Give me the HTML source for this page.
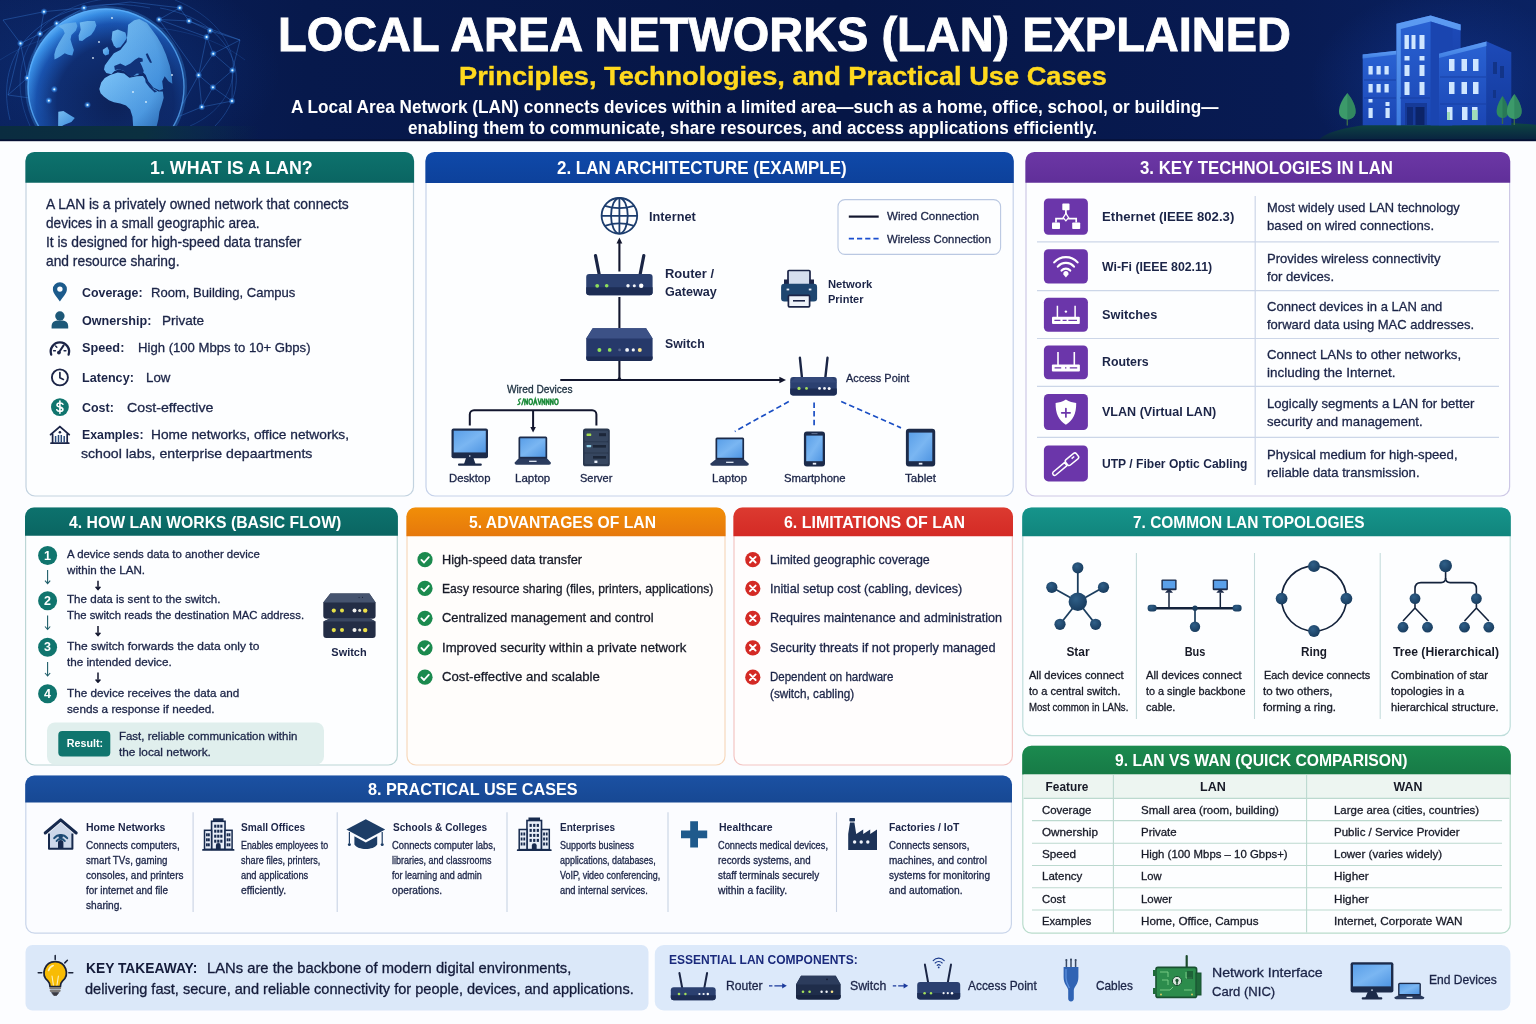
<!DOCTYPE html>
<html lang="en"><head><meta charset="utf-8">
<title>Local Area Networks (LAN) Explained</title>
<style>
*{margin:0;padding:0;box-sizing:border-box}
html,body{width:1536px;height:1024px;overflow:hidden;background:#fcfdff}
body{position:relative;font-family:"Liberation Sans",sans-serif;color:#1b2447}
#art{position:absolute;left:0;top:0;width:1536px;height:1024px;display:block}
#tx{position:absolute;left:0;top:0;width:1536px;height:1024px;will-change:transform}
.t{position:absolute;white-space:nowrap;transform-origin:0 50%}
.c{transform-origin:50% 50%}
.b{font-weight:700}
.m{-webkit-text-stroke:0.3px currentColor}
.h{-webkit-text-stroke:0.4px currentColor}
.H{-webkit-text-stroke:0.9px currentColor}
</style></head>
<body>
<svg id="art" viewBox="0 0 1536 1024" width="1536" height="1024">
<defs>
<linearGradient id="hBg" x1="0" y1="0" x2="1" y2="0"><stop offset="0" stop-color="#0a215c"/><stop offset="0.2" stop-color="#07194c"/><stop offset="0.55" stop-color="#061646"/><stop offset="0.84" stop-color="#081b53"/><stop offset="1" stop-color="#0a2262"/></linearGradient>
<radialGradient id="hGlowL" cx="0.5" cy="0.5" r="0.5"><stop offset="0" stop-color="#1a56c0" stop-opacity="0.25"/><stop offset="1" stop-color="#1a56c0" stop-opacity="0"/></radialGradient>
<radialGradient id="hGlowR" cx="0.5" cy="0.5" r="0.5"><stop offset="0" stop-color="#1c4fc8" stop-opacity="0.34"/><stop offset="1" stop-color="#1c4fc8" stop-opacity="0"/></radialGradient>
<radialGradient id="gOcean" cx="0.56" cy="0.6" r="0.6"><stop offset="0" stop-color="#0c2259"/><stop offset="0.62" stop-color="#0f2e72"/><stop offset="0.84" stop-color="#1a55b2"/><stop offset="0.96" stop-color="#3a92ea"/><stop offset="1" stop-color="#52a8f6"/></radialGradient>
<linearGradient id="gLand" x1="0" y1="0" x2="1" y2="1"><stop offset="0" stop-color="#7cc4f8"/><stop offset="1" stop-color="#3d8fe0"/></linearGradient>
<radialGradient id="gShade" cx="0.42" cy="0.38" r="0.7"><stop offset="0" stop-color="#0a1f58" stop-opacity="0"/><stop offset="0.6" stop-color="#0a1f58" stop-opacity="0.05"/><stop offset="0.85" stop-color="#0a1f58" stop-opacity="0.35"/><stop offset="1" stop-color="#0a1f58" stop-opacity="0.55"/></radialGradient>
<radialGradient id="nodeG" cx="0.5" cy="0.5" r="0.5"><stop offset="0" stop-color="#bfe6ff"/><stop offset="0.35" stop-color="#4aa8ff" stop-opacity="0.8"/><stop offset="1" stop-color="#2a7cf0" stop-opacity="0"/></radialGradient>
<clipPath id="hClipAll"><rect x="0" y="0" width="1536" height="141"/></clipPath>
<clipPath id="hClip"><rect x="0" y="0" width="1536" height="126.2"/></clipPath>
<clipPath id="gClip"><circle cx="106" cy="87" r="78.5"/></clipPath>
<linearGradient id="bFront" x1="0" y1="0" x2="0" y2="1"><stop offset="0" stop-color="#2a63d4"/><stop offset="1" stop-color="#1b46b4"/></linearGradient>
<linearGradient id="bSide" x1="0" y1="0" x2="0" y2="1"><stop offset="0" stop-color="#1d4ab8"/><stop offset="1" stop-color="#143a9c"/></linearGradient>
<linearGradient id="bTop" x1="0" y1="0" x2="0" y2="1"><stop offset="0" stop-color="#5e9cf2"/><stop offset="1" stop-color="#3f7ee2"/></linearGradient>
<linearGradient id="gGround" x1="0" y1="0" x2="0" y2="1"><stop offset="0" stop-color="#0f4a44"/><stop offset="1" stop-color="#08203f"/></linearGradient>
<linearGradient id="gGroundL" x1="0" y1="0" x2="1" y2="0"><stop offset="0" stop-color="#0a2c40"/><stop offset="0.55" stop-color="#0b3040"/><stop offset="1" stop-color="#0b3040" stop-opacity="0"/></linearGradient>
</defs>
<g id="header">
<rect x="0" y="0" width="1536" height="141" fill="url(#hBg)"/>
<g clip-path="url(#hClipAll)"><ellipse cx="110" cy="72" rx="170" ry="105" fill="url(#hGlowL)"/>
<ellipse cx="1445" cy="85" rx="135" ry="95" fill="url(#hGlowR)"/></g>
<g clip-path="url(#hClip)">
<g stroke="#3f8cf0" stroke-width="0.6" stroke-opacity="0.55" fill="none">
<path d="M40 33.8 L20.5 43.4"/>
<path d="M40 33.8 L56.6 23.4"/>
<path d="M40 33.8 L44 11.7"/>
<path d="M44 11.7 L84 7.8"/>
<path d="M84 7.8 L56.6 23.4"/>
<path d="M20.5 43.4 L27.3 78"/>
<path d="M27.3 78 L54.3 89.3"/>
<path d="M54.3 89.3 L48.8 100.6"/>
<path d="M48.8 100.6 L87.5 104.9"/>
<path d="M27.3 78 L48.8 100.6"/>
<path d="M20.5 43.4 L8 95"/>
<path d="M8 95 L48.8 100.6"/>
<path d="M27.3 78 L8 95"/>
<path d="M40 33.8 L27.3 78"/>
<path d="M56.6 23.4 L54.3 89.3"/>
<path d="M159 19.5 L189 21"/>
<path d="M189 21 L210 30.7"/>
<path d="M210 30.7 L206.6 37"/>
<path d="M206.6 37 L213.3 53.7"/>
<path d="M213.3 53.7 L232.4 70.3"/>
<path d="M232.4 70.3 L212.9 87.3"/>
<path d="M212.9 87.3 L198.6 75.2"/>
<path d="M198.6 75.2 L213.3 53.7"/>
<path d="M198.6 75.2 L206.6 37"/>
<path d="M212.9 87.3 L201.8 107"/>
<path d="M201.8 107 L232 101"/>
<path d="M232 101 L232.4 70.3"/>
<path d="M179.7 7.8 L189 21"/>
<path d="M179.7 7.8 L159 19.5"/>
<path d="M159 19.5 L206.6 37"/>
<path d="M189 21 L240 40"/>
<path d="M240 40 L232.4 70.3"/>
<path d="M240 40 L213.3 53.7"/>
<path d="M198.6 75.2 L201.8 107"/>
<path d="M201.8 107 L175 118"/>
<path d="M175 118 L198.6 75.2"/>
<path d="M159 19.5 L198.6 75.2"/>
<path d="M3 20 L20.5 43.4"/>
<path d="M3 20 L44 11.7"/>
<path d="M130 2 L179.7 7.8"/>
<path d="M130 2 L84 7.8"/>
<path d="M210 30.7 L240 40"/>
<path d="M212.9 87.3 L232 101"/>
<path d="M87.5 104.9 L175 118"/>
<path d="M54.3 89.3 L87.5 104.9"/>
<path d="M10 120 C-10 40 60 -10 150 8" stroke-opacity="0.5"/>
<path d="M30 126 C0 60 40 0 120 -2" stroke-opacity="0.4"/>
<path d="M160 8 C230 20 260 80 215 126" stroke-opacity="0.5"/>
<path d="M175 0 C250 30 250 100 190 126" stroke-opacity="0.4"/>
<path d="M0 60 C60 20 180 10 245 60" stroke-opacity="0.3"/>
</g>
<circle cx="106" cy="87" r="81" fill="#3f9cf0" opacity="0.28"/>
<circle cx="106" cy="87" r="78.5" fill="url(#gOcean)"/>
<g clip-path="url(#gClip)" fill="url(#gLand)">
<path d="M79.7 22.6 L87.3 20.9 L94.9 20.9 L96.4 25.4 L94.3 30.5 L91.1 34.9 L86.0 38.1 L82.2 40.9 L79.0 40.4 L78.6 35.5 L80.7 29.8 Z"/>
<path d="M58.1 26.0 L65.7 23.5 L75.9 22.3 L77.4 26.0 L75.9 30.5 L71.4 34.9 L70.5 39.4 L72.0 44.4 L73.9 50.1 L72.3 55.6 L68.2 54.8 L64.7 53.3 L60.9 55.9 L57.6 57.9 L54.5 59.4 L54.3 54.6 L55.8 48.9 L58.7 43.2 L61.9 38.1 L64.7 33.3 L63.2 29.4 Z"/>
<path d="M112.4 31.5 L117.7 29.4 L125.4 32.4 L126.9 38.1 L124.1 42.5 L120.3 47.2 L116.2 48.0 L113.7 45.2 L111.6 39.6 Z"/>
<path d="M102.8 49.8 L107.3 46.7 L109.1 50.5 L108.9 54.3 L105.3 55.6 L103.1 53.3 Z"/>
<path d="M108.9 59.7 L113.9 53.3 L120.3 50.1 L126.6 41.9 L127.6 31.7 L128.1 24.8 L134.2 20.3 L139.3 19.0 L146.9 23.1 L152.0 29.8 L157.1 36.8 L162.2 45.7 L166.0 54.6 L169.8 66.0 L171.8 76.2 L172.3 83.8 L168.5 81.2 L164.7 76.2 L162.2 81.2 L163.2 88.9 L159.6 90.4 L153.3 87.6 L148.2 81.2 L145.7 74.9 L141.9 71.1 L138.1 74.9 L131.7 76.2 L127.9 73.6 L124.1 71.1 L119.0 69.2 L114.6 71.1 L111.4 74.3 L106.3 73.0 L104.0 69.6 L104.8 65.4 Z"/>
<path d="M99.3 88.9 L101.2 82.5 L104.8 78.1 L110.1 74.9 L117.7 72.6 L124.1 73.6 L129.4 77.7 L136.8 76.2 L142.9 75.9 L146.9 81.2 L152.0 87.6 L158.4 91.4 L162.8 91.6 L163.7 97.7 L161.5 105.4 L159.4 111.7 L158.4 119.3 L156.5 126.9 L133.2 126.9 L132.5 116.8 L130.2 109.4 L126.0 105.4 L120.3 103.5 L113.9 102.3 L108.9 100.3 L103.8 96.5 L100.6 93.3 Z"/>
<path d="M58.3 111.7 L63.4 110.9 L69.8 114.9 L74.8 118.1 L71.4 122.1 L63.8 125.0 L60.4 126.9 L58.1 126.9 Z"/>
</g>
<g clip-path="url(#gClip)" fill="#11337a">
<path d="M114.2 66.0 L120.3 63.5 L125.4 66.0 L130.4 63.5 L134.9 59.7 L139.3 60.7 L141.9 66.0 L143.8 71.1 L141.9 74.3 L136.8 73.4 L133.0 76.2 L127.9 75.5 L124.1 71.1 L119.0 69.2 L114.9 70.1 Z"/>
<path d="M145.0 78.7 L147.6 81.2 L153.3 88.9 L157.1 91.4 L154.6 92.4 L149.5 87.6 L145.7 82.5 Z"/>
<path d="M134.9 59.7 L138.7 57.4 L142.5 58.6 L142.9 61.6 L139.3 62.2 L136.1 62.5 Z"/>
<path d="M145.7 53.9 L147.6 53.3 L150.7 59.7 L152.0 62.8 L150.1 62.8 L147.2 57.8 Z"/>
</g>
<circle cx="106" cy="87" r="78.5" fill="url(#gShade)"/>
<circle cx="106" cy="87" r="78" fill="none" stroke="#5fb4ff" stroke-width="1.4" stroke-opacity="0.7"/>
<circle cx="40" cy="33.8" r="3.6" fill="url(#nodeG)"/>
<circle cx="40" cy="33.8" r="0.9" fill="#e8f6ff"/>
<circle cx="20.5" cy="43.4" r="3.6" fill="url(#nodeG)"/>
<circle cx="20.5" cy="43.4" r="0.9" fill="#e8f6ff"/>
<circle cx="27.3" cy="78" r="3.6" fill="url(#nodeG)"/>
<circle cx="27.3" cy="78" r="0.9" fill="#e8f6ff"/>
<circle cx="54.3" cy="89.3" r="3.6" fill="url(#nodeG)"/>
<circle cx="54.3" cy="89.3" r="0.9" fill="#e8f6ff"/>
<circle cx="48.8" cy="100.6" r="3.6" fill="url(#nodeG)"/>
<circle cx="48.8" cy="100.6" r="0.9" fill="#e8f6ff"/>
<circle cx="87.5" cy="104.9" r="3.6" fill="url(#nodeG)"/>
<circle cx="87.5" cy="104.9" r="0.9" fill="#e8f6ff"/>
<circle cx="159" cy="19.5" r="3.6" fill="url(#nodeG)"/>
<circle cx="159" cy="19.5" r="0.9" fill="#e8f6ff"/>
<circle cx="189" cy="21" r="3.6" fill="url(#nodeG)"/>
<circle cx="189" cy="21" r="0.9" fill="#e8f6ff"/>
<circle cx="210" cy="30.7" r="3.6" fill="url(#nodeG)"/>
<circle cx="210" cy="30.7" r="0.9" fill="#e8f6ff"/>
<circle cx="206.6" cy="37" r="3.6" fill="url(#nodeG)"/>
<circle cx="206.6" cy="37" r="0.9" fill="#e8f6ff"/>
<circle cx="213.3" cy="53.7" r="3.6" fill="url(#nodeG)"/>
<circle cx="213.3" cy="53.7" r="0.9" fill="#e8f6ff"/>
<circle cx="232.4" cy="70.3" r="3.6" fill="url(#nodeG)"/>
<circle cx="232.4" cy="70.3" r="0.9" fill="#e8f6ff"/>
<circle cx="198.6" cy="75.2" r="3.6" fill="url(#nodeG)"/>
<circle cx="198.6" cy="75.2" r="0.9" fill="#e8f6ff"/>
<circle cx="212.9" cy="87.3" r="3.6" fill="url(#nodeG)"/>
<circle cx="212.9" cy="87.3" r="0.9" fill="#e8f6ff"/>
<circle cx="201.8" cy="107" r="3.6" fill="url(#nodeG)"/>
<circle cx="201.8" cy="107" r="0.9" fill="#e8f6ff"/>
<circle cx="232" cy="101" r="3.6" fill="url(#nodeG)"/>
<circle cx="232" cy="101" r="0.9" fill="#e8f6ff"/>
<circle cx="179.7" cy="7.8" r="3.6" fill="url(#nodeG)"/>
<circle cx="179.7" cy="7.8" r="0.9" fill="#e8f6ff"/>
<circle cx="44" cy="11.7" r="3.6" fill="url(#nodeG)"/>
<circle cx="44" cy="11.7" r="0.9" fill="#e8f6ff"/>
<circle cx="84" cy="7.8" r="3.6" fill="url(#nodeG)"/>
<circle cx="84" cy="7.8" r="0.9" fill="#e8f6ff"/>
<circle cx="56.6" cy="23.4" r="3.6" fill="url(#nodeG)"/>
<circle cx="56.6" cy="23.4" r="0.9" fill="#e8f6ff"/>
<circle cx="99" cy="42" r="0.9" fill="#e8f6ff" opacity="0.9"/>
<circle cx="112" cy="18" r="0.9" fill="#e8f6ff" opacity="0.9"/>
<circle cx="172" cy="75" r="0.9" fill="#e8f6ff" opacity="0.9"/>
<circle cx="146" cy="102" r="0.9" fill="#e8f6ff" opacity="0.9"/>
<circle cx="133" cy="92" r="0.9" fill="#e8f6ff" opacity="0.9"/>
<circle cx="93" cy="58" r="0.9" fill="#e8f6ff" opacity="0.9"/>
</g>
<rect x="0" y="126" width="260" height="15" fill="url(#gGroundL)"/>
<path d="M1318 141 C1330 124 1400 121 1440 121 C1480 121 1520 123 1536 125 V141 Z" fill="url(#gGround)"/>
<g id="bld">
<path d="M1362.7 54.5 L1396.5 50.7 V125.2 H1362.7 Z" fill="url(#bFront)"/>
<path d="M1362.7 54.5 L1396.5 50.7 V54.6 L1362.7 58.4 Z" fill="url(#bTop)"/>
<path d="M1430.6 23.8 L1460.6 24.4 V125.2 H1430.6 Z" fill="url(#bSide)"/>
<path d="M1396.5 23.8 L1430.6 15.4 L1460.6 24.4 L1460.6 30 L1452 28.5 V125.2 H1396.5 Z" fill="url(#bFront)"/>
<path d="M1396.5 23.8 L1430.6 15.4 L1460.6 24.4 V30.4 L1430.6 21.6 L1400.8 29 V125.2 H1396.5 Z" fill="url(#bTop)"/>
<path d="M1430.6 21.6 L1452.5 28.6 V125.2 H1430.6 Z" fill="#1a45b0"/>
<path d="M1439 53.8 L1486.7 41.5 V125.2 H1439 Z" fill="url(#bFront)"/>
<path d="M1439 53.8 L1486.7 41.5 V46 L1439 58 Z" fill="url(#bTop)"/>
<path d="M1486.7 41.5 L1511.3 52.2 V125.2 H1486.7 Z" fill="url(#bSide)"/>
<g stroke="#163c9f" stroke-width="1" opacity="0.8"><path d="M1364 80 H1396 M1364 98 H1396 M1440 77 H1486 M1440 104 H1486 M1400 98 H1430"/></g>
<g fill="#cfe6ff">
<rect x="1368.5" y="66" width="4.2" height="8.5"/>
<rect x="1376.5" y="66" width="4.2" height="8.5"/>
<rect x="1384.5" y="66" width="4.2" height="8.5"/>
<rect x="1368.5" y="84" width="4.2" height="8.5"/>
<rect x="1376.5" y="84" width="4.2" height="8.5"/>
<rect x="1384.5" y="84" width="4.2" height="8.5"/>
<rect x="1368.5" y="108" width="4.2" height="10"/>
<rect x="1385.5" y="108" width="4.2" height="10"/>
<rect x="1368.5" y="99" width="4" height="3.5"/>
<rect x="1385.5" y="102" width="4" height="4"/>
<rect x="1404.5" y="35" width="4.4" height="14"/>
<rect x="1411.5" y="35" width="4" height="14"/>
<rect x="1419.5" y="35" width="5" height="14"/>
<rect x="1404.5" y="56" width="5" height="4.5"/>
<rect x="1419.5" y="56" width="5" height="4.5"/>
<rect x="1404.5" y="65" width="5" height="11"/>
<rect x="1419.5" y="65" width="5" height="11"/>
<rect x="1404.5" y="82" width="5" height="13"/>
<rect x="1419.5" y="82" width="5" height="13"/>
<rect x="1449" y="59" width="5.5" height="12"/>
<rect x="1461.5" y="59" width="5.5" height="12"/>
<rect x="1473" y="59" width="5.5" height="12"/>
<rect x="1449" y="82" width="5.5" height="12"/>
<rect x="1461.5" y="82" width="5.5" height="12"/>
<rect x="1473" y="82" width="5.5" height="12"/>
<rect x="1447" y="107" width="5.5" height="13"/>
<rect x="1462" y="107" width="5.5" height="13"/>
<rect x="1472" y="107" width="5.5" height="13"/>
</g>
<g fill="#9fdcb8"><rect x="1472" y="110" width="5.5" height="10"/><rect x="1447" y="112" width="3" height="8"/></g>
<rect x="1405" y="103" width="22" height="22" fill="#163a98"/><rect x="1407" y="107" width="6" height="18" fill="#0e2a78"/><rect x="1415.5" y="107" width="9" height="18" fill="#0c2468"/>
<g fill="#123488"><rect x="1493" y="62" width="4" height="12"/><rect x="1500" y="66" width="4" height="12"/><rect x="1493" y="90" width="3" height="8"/></g>
</g>
<path d="M1347.3 115.5 V125.5" stroke="#3c6a4a" stroke-width="1.4"/><path d="M1347.3 93 C1356.65 104.375 1360.05 118.5 1347.3 119.5 C1334.55 118.5 1337.95 104.375 1347.3 93 Z" fill="#3c9a6a"/><path d="M1347.3 93 C1356.65 104.375 1360.05 118.5 1347.3 119.5 Z" fill="#2a7a58" opacity="0.55"/>
<path d="M1502.5 114 V124" stroke="#3c6a4a" stroke-width="1.4"/><path d="M1502.5 96 C1509.1 105.8 1511.5 117 1502.5 118 C1493.5 117 1495.9 105.8 1502.5 96 Z" fill="#2f8a60"/><path d="M1502.5 96 C1509.1 105.8 1511.5 117 1502.5 118 Z" fill="#226a50" opacity="0.55"/>
<path d="M1514.3 115 V125" stroke="#3c6a4a" stroke-width="1.4"/><path d="M1514.3 94 C1522.55 104.85 1525.55 118 1514.3 119 C1503.05 118 1506.05 104.85 1514.3 94 Z" fill="#3c9a6a"/><path d="M1514.3 94 C1522.55 104.85 1525.55 118 1514.3 119 Z" fill="#2a7a58" opacity="0.55"/>
<rect x="0" y="139.4" width="1536" height="1.8" fill="#050f33"/>
</g>
<defs>
<linearGradient id="gOr" x1="0" y1="0" x2="0" y2="1"><stop offset="0" stop-color="#f18e08"/><stop offset="1" stop-color="#e6780c"/></linearGradient>
<linearGradient id="gRd" x1="0" y1="0" x2="0" y2="1"><stop offset="0" stop-color="#dc3a30"/><stop offset="1" stop-color="#d42a25"/></linearGradient>
<linearGradient id="gT1" x1="0" y1="0" x2="0" y2="1"><stop offset="0" stop-color="#0d726d"/><stop offset="1" stop-color="#0a6562"/></linearGradient>
<linearGradient id="gT7" x1="0" y1="0" x2="0" y2="1"><stop offset="0" stop-color="#16948b"/><stop offset="1" stop-color="#11857d"/></linearGradient>
<linearGradient id="gB2" x1="0" y1="0" x2="0" y2="1"><stop offset="0" stop-color="#0f49a9"/><stop offset="1" stop-color="#0d419b"/></linearGradient>
<linearGradient id="gB8" x1="0" y1="0" x2="0" y2="1"><stop offset="0" stop-color="#1b51a3"/><stop offset="1" stop-color="#174893"/></linearGradient>
<linearGradient id="gP3" x1="0" y1="0" x2="0" y2="1"><stop offset="0" stop-color="#6c37a5"/><stop offset="1" stop-color="#602f99"/></linearGradient>
<linearGradient id="gG9" x1="0" y1="0" x2="0" y2="1"><stop offset="0" stop-color="#1b8a4f"/><stop offset="1" stop-color="#177a46"/></linearGradient>
</defs>
<g id="panels">
<rect x="26" y="152.5" width="387.5" height="343.5" rx="9" fill="#fdfeff" stroke="#c3d3e0" stroke-width="1.2"/>
<path d="M25.4 182.8 V160.9 a9 9 0 0 1 9 -9 H405.1 a9 9 0 0 1 9 9 V182.8 Z" fill="url(#gT1)"/>
<rect x="426" y="152.5" width="587.2" height="343.5" rx="9" fill="#fdfeff" stroke="#c6d2ea" stroke-width="1.2"/>
<path d="M425.4 183 V160.9 a9 9 0 0 1 9 -9 H1004.8 a9 9 0 0 1 9 9 V183 Z" fill="url(#gB2)"/>
<rect x="1026" y="152.5" width="483.6" height="343.5" rx="9" fill="#fdfeff" stroke="#cdc8e6" stroke-width="1.2"/>
<path d="M1025.4 182.8 V160.9 a9 9 0 0 1 9 -9 H1501.2 a9 9 0 0 1 9 9 V182.8 Z" fill="url(#gP3)"/>
<rect x="25.6" y="508.2" width="371.7" height="256.8" rx="9" fill="#fdfeff" stroke="#bcd6d6" stroke-width="1.2"/>
<path d="M25 535.8 V516.6 a9 9 0 0 1 9 -9 H388.9 a9 9 0 0 1 9 9 V535.8 Z" fill="url(#gT1)"/>
<rect x="407" y="508.2" width="318" height="256.8" rx="9" fill="#fffdfb" stroke="#f7d9bd" stroke-width="1.2"/>
<path d="M406.4 536.3 V516.6 a9 9 0 0 1 9 -9 H716.6 a9 9 0 0 1 9 9 V536.3 Z" fill="url(#gOr)"/>
<rect x="734" y="508.2" width="278.4" height="256.8" rx="9" fill="#fffdfd" stroke="#f3c6c4" stroke-width="1.2"/>
<path d="M733.4 536.3 V516.6 a9 9 0 0 1 9 -9 H1004 a9 9 0 0 1 9 9 V536.3 Z" fill="url(#gRd)"/>
<rect x="1022.8" y="508" width="487.4" height="227.6" rx="9" fill="#fdfeff" stroke="#bfdedb" stroke-width="1.2"/>
<path d="M1022.2 536.2 V516.4 a9 9 0 0 1 9 -9 H1501.8 a9 9 0 0 1 9 9 V536.2 Z" fill="url(#gT7)"/>
<rect x="25.8" y="776.2" width="985.6" height="157" rx="9" fill="#fbfcff" stroke="#c9d5ea" stroke-width="1.2"/>
<path d="M25.2 802.4 V784.6 a9 9 0 0 1 9 -9 H1003 a9 9 0 0 1 9 9 V802.4 Z" fill="url(#gB8)"/>
<rect x="1022.8" y="746.4" width="487.4" height="186.8" rx="9" fill="#fdfeff" stroke="#b9dccc" stroke-width="1.2"/>
<path d="M1022.2 774.6 V754.8 a9 9 0 0 1 9 -9 H1501.8 a9 9 0 0 1 9 9 V774.6 Z" fill="url(#gG9)"/>
<rect x="25.5" y="945" width="623" height="65.5" rx="7" fill="#dbe8f9"/>
<rect x="654.8" y="945" width="855.6" height="65.5" rx="9" fill="#dce9fa"/>
</g>
<g stroke="#ccd6e8" stroke-width="1.2" fill="none">
<path d="M1037 241.8 H1499"/>
<path d="M1037 290.6 H1499"/>
<path d="M1037 338.5 H1499"/>
<path d="M1037 386.4 H1499"/>
<path d="M1037 437.3 H1499"/>
<path d="M1255.2 196 V485"/>
</g>
<g fill="#6b36aa">
<rect x="1043.9" y="198.5" width="44" height="36.2" rx="4.5"/>
<rect x="1043.9" y="249.2" width="44" height="34.3" rx="4.5"/>
<rect x="1043.9" y="297.8" width="44" height="34" rx="4.5"/>
<rect x="1043.9" y="345.4" width="44" height="33.9" rx="4.5"/>
<rect x="1043.9" y="394" width="44" height="36" rx="4.5"/>
<rect x="1043.9" y="445.4" width="44" height="36" rx="4.5"/>
</g>
<g stroke="#c5dcdc" stroke-width="1.1">
<path d="M1136.4 553 V719"/>
<path d="M1254.5 553 V719"/>
<path d="M1380.2 553 V719"/>
</g>
<g stroke="#c9d3e4" stroke-width="1.1">
<path d="M193.1 812.3 V912"/>
<path d="M337.2 812.3 V912"/>
<path d="M507 812.3 V912"/>
<path d="M668 812.3 V912"/>
<path d="M836.5 812.3 V912"/>
</g>
<rect x="1023.6" y="774.6" width="485.8" height="23.8" fill="#edf5f1"/>
<g stroke="#bcd9cf" stroke-width="1.1" fill="none">
<path d="M1023.6 798.4 H1509.4"/>
<path d="M1032 820.6 H1502"/>
<path d="M1032 843.2 H1502"/>
<path d="M1032 865.5 H1502"/>
<path d="M1032 887.7 H1502"/>
<path d="M1032 910 H1502"/>
<path d="M1113.4 775 V932.5 M1306.6 775 V932.5"/>
</g>
<path d="M55 722.4 H316 a8 8 0 0 1 8 8 V756.5 a8 8 0 0 1 -8 8 H55 a8 8 0 0 1 -8 -8 V730.4 a8 8 0 0 1 8 -8 Z" fill="#e0efed"/>
<rect x="58.3" y="731" width="52" height="25.6" rx="4" fill="#10756e"/>
<rect x="838" y="199.6" width="162.6" height="54.8" rx="7" fill="#fdfeff" stroke="#bac8e2" stroke-width="1.1"/>
<defs>
<linearGradient id="scrG" x1="0" y1="0" x2="1" y2="1"><stop offset="0" stop-color="#5a9fe8"/><stop offset="0.5" stop-color="#7ab6f2"/><stop offset="1" stop-color="#4f95e2"/></linearGradient>
<radialGradient id="nodeB" cx="0.4" cy="0.35" r="0.7"><stop offset="0" stop-color="#2f5f88"/><stop offset="1" stop-color="#173a5c"/></radialGradient>
<marker id="ah" viewBox="0 0 10 10" refX="8" refY="5" markerWidth="5" markerHeight="5" orient="auto-start-reverse"><path d="M0 0 L10 5 L0 10 Z" fill="#12162e"/></marker>
</defs>
<g id="p1i">
<path d="M59.9 301.6 C56.5 296.5 52.9 293.3 52.9 289.3 a7 7 0 0 1 14 0 C66.9 293.3 63.3 296.5 59.9 301.6 Z" fill="#1c5b8c"/><circle cx="59.9" cy="289.1" r="2.7" fill="#fdfeff"/>
<circle cx="59.9" cy="316" r="4.7" fill="#1d5878"/><path d="M51.6 328.4 V326 a5.5 5.5 0 0 1 5.5 -5.5 h5.6 a5.5 5.5 0 0 1 5.5 5.5 V328.4 Z" fill="#1d5878"/>
<path d="M51.2 354.6 a9.2 9.2 0 1 1 17.4 0" fill="none" stroke="#1b2447" stroke-width="2.3" stroke-linecap="round"/>
<path d="M59 352.3 L63.6 345.4" stroke="#1b2447" stroke-width="2" stroke-linecap="round"/><circle cx="58.9" cy="352.6" r="1.9" fill="#1b2447"/>
<path d="M53.6 350.8 h1.8 M55.6 346 l1.2 1.2 M65.9 350.8 h-1.8" stroke="#1b2447" stroke-width="1.5" stroke-linecap="round"/>
<circle cx="59.9" cy="377.4" r="8" fill="none" stroke="#1b2447" stroke-width="1.9"/><path d="M59.9 372.6 V377.8 L63.4 379.4" fill="none" stroke="#1b2447" stroke-width="1.7" stroke-linecap="round" stroke-linejoin="round"/>
<circle cx="59.9" cy="407.1" r="8.9" fill="#10756e"/>
<path d="M62.9 404.2 C62.3 402.6 57 402.2 57 405 C57 407.8 62.9 406.4 62.9 409.4 C62.9 412 57.4 411.8 56.8 409.8 M59.9 401 V413.2" fill="none" stroke="#fff" stroke-width="1.6" stroke-linecap="round"/>
<path d="M50.6 434.6 L59.9 426.6 L69.2 434.6" fill="none" stroke="#1b2447" stroke-width="1.9" stroke-linecap="round" stroke-linejoin="round"/>
<path d="M52.6 434.2 V443 M67.2 434.2 V443 M51 443.2 H68.8" fill="none" stroke="#1b2447" stroke-width="1.7" stroke-linecap="round"/>
<path d="M55.6 436 V442.4 M58.5 435 V442.4 M61.3 435 V442.4 M64.2 436 V442.4" stroke="#2a4a7a" stroke-width="1.5"/><circle cx="59.9" cy="432.2" r="1.3" fill="#1b2447"/>
</g>
<g id="p2d">
<g fill="none" stroke="#1c3d6e" stroke-width="1.8">
<circle cx="619.4" cy="215.8" r="17.8"/>
<ellipse cx="619.4" cy="215.8" rx="8.366" ry="17.8"/>
<path d="M619.4 198 V233.6 M601.6 215.8 H637.2"/>
<path d="M604.804 205.832 Q619.4 210.46 633.996 205.832 M604.804 225.768 Q619.4 221.14 633.996 225.768"/>
</g>
<path d="M619.4 271.5 V241" stroke="#12162e" stroke-width="2.1"/><path d="M619.4 237.6 L622.3 243.4 H616.5 Z" fill="#12162e"/>
<path d="M595.5 255.6 L599.3 275" stroke="#1a2545" stroke-width="3.2" stroke-linecap="round"/><path d="M643.8 255.6 L640 275" stroke="#1a2545" stroke-width="3.2" stroke-linecap="round"/><rect x="586.2" y="274" width="66.4" height="21.2" rx="3" fill="#2b4070"/><path d="M586.2 287.144 H652.6 V292.2 a3 3 0 0 1 -3 3 H589.2 a3 3 0 0 1 -3 -3 Z" fill="#1d2d55"/><circle cx="597.2" cy="285.8" r="1.9" fill="#8fe05a"/><circle cx="606.7" cy="285.8" r="1.8" fill="#8fe05a"/><circle cx="628" cy="285.8" r="1.7" fill="#f2f4f8"/><circle cx="634.3" cy="285.8" r="1.5" fill="#f2f4f8"/><circle cx="641.2" cy="285.8" r="2.2" fill="#ffffff"/>
<path d="M619.4 297 V328" stroke="#12162e" stroke-width="2.1"/>
<path d="M592.7 328.3 H646.1 L652.6 338.6 V358 a3 3 0 0 1 -3 3 H589.2 a3 3 0 0 1 -3 -3 V338.6 Z" fill="#26396a"/><path d="M592.7 328.3 H646.1 L652.6 338.6 H586.2 Z" fill="#3c5186"/><path d="M586.2 356.5 H652.6 V358 a3 3 0 0 1 -3 3 H589.2 a3 3 0 0 1 -3 -3 Z" fill="#1c2b54"/><circle cx="599.4" cy="349.9" r="2" fill="#8fe05a"/><circle cx="609.7" cy="349.9" r="1.9" fill="#8fe05a"/><circle cx="619.6" cy="349.9" r="1.4" fill="#5a6a90"/><circle cx="627.1" cy="349.9" r="1.9" fill="#f2f4f8"/><circle cx="633.3" cy="349.9" r="1.6" fill="#f2f4f8"/><circle cx="639.8" cy="349.9" r="2" fill="#f6e28a"/>
<path d="M619.4 361 V380 M560.3 380 H781" stroke="#12162e" stroke-width="2.1" fill="none"/>
<path d="M786 380 L779.4 376.8 V383.2 Z" fill="#12162e"/>
<path d="M616.6 380 L619.4 376.4 L622.2 380 Z" fill="#12162e"/>
<path d="M469.8 425.4 V414.4 a4.2 4.2 0 0 1 4.2 -4.2 H592.2 a4.2 4.2 0 0 1 4.2 4.2 V425.4 M533.1 410.2 V428" stroke="#12162e" stroke-width="2" fill="none"/>
<path d="M533.1 432.6 L530.3 427 H535.9 Z" fill="#12162e"/>
<g stroke="#1e8c3c" stroke-width="1.35" fill="none" stroke-linecap="round">
<path d="M520.6 398.8 q-3 0.4 -1.4 2.8 q1.8 2 -1.4 3"/>
<path d="M521.8 404.8 L523.8 398.8"/>
<path d="M524.8 404.8 V398.8 L527.4 404.8 V398.8"/>
<ellipse cx="530.7" cy="401.8" rx="1.7" ry="2.8"/>
<path d="M533.6 404.8 L535.3 398.8 L537 404.8 M534.4 402.8 h2"/>
<path d="M538.1 398.8 L539.6 404.8 L541.1 398.8"/>
<path d="M542.1 404.8 V398.8 L544.7 404.8 V398.8"/>
<path d="M546.3 404.8 V398.8 L548.9 404.8 V398.8"/>
<path d="M550.5 404.8 V398.8 L553.1 404.8 V398.8"/>
<ellipse cx="556.4" cy="401.8" rx="1.7" ry="2.8"/>
</g>
<rect x="451.5" y="428.5" width="36.5" height="29.7" rx="2" fill="#1c2b4a"/><rect x="453.7" y="430.7" width="32.1" height="21.736" fill="url(#scrG)"/><path d="M466.1 457.7 L463.91 464.3 H475.59 L473.4 457.7 Z" fill="#1c2b4a"/><rect x="458" y="463.6" width="23.8" height="2.2" rx="1" fill="#1c2b4a"/><circle cx="469.75" cy="455.972" r="0.8" fill="#dfe8f5"/>
<rect x="518.5" y="436.6" width="28.7" height="22.9" rx="1.5" fill="#1c2b4a"/><rect x="520.2" y="438.3" width="25.3" height="18.5" fill="url(#scrG)"/><path d="M518.5 458.5 H547.2 L551 462.7 Q551 464.7 549 464.7 H516.5 Q514.5 464.7 514.5 462.7 Z" fill="#2a3b5e"/><rect x="529.119" y="460.67" width="7.462" height="1.3" fill="#dfe8f5"/>
<rect x="583" y="428.5" width="26.8" height="37.8" rx="2.6" fill="#2a384f"/>
<rect x="584.6" y="430.8" width="23.6" height="10.4" rx="1.4" fill="#36465f"/>
<rect x="584.6" y="442.2" width="23.6" height="10.4" rx="1.4" fill="#36465f"/>
<rect x="584.6" y="453.6" width="23.6" height="10.4" rx="1.4" fill="#36465f"/>
<rect x="586.6" y="433.6" width="4.6" height="2.4" rx="0.6" fill="#a4dc4e"/><rect x="599" y="433.2" width="7" height="3" fill="#1c2638"/>
<rect x="586.6" y="445" width="4.6" height="2.2" rx="0.6" fill="#8fd0e8"/><rect x="593" y="445" width="13" height="2.6" fill="#1c2638"/>
<rect x="593" y="456" width="13" height="2.6" fill="#1c2638"/><rect x="594.4" y="460.6" width="3" height="2.4" fill="#e8eef8"/>
<rect x="788" y="270.5" width="22" height="15" rx="1" fill="#d5deee" stroke="#1b2447" stroke-width="1.7"/>
<rect x="784" y="279.5" width="4.5" height="5" fill="#1b2447"/><rect x="809.5" y="279.5" width="4.5" height="5" fill="#1b2447"/>
<rect x="781.1" y="283.8" width="36" height="17.6" rx="3.2" fill="#1e4670"/>
<rect x="786.6" y="288.6" width="2.6" height="1.8" fill="#e8eef8"/><rect x="808.8" y="288.6" width="2.6" height="1.8" fill="#e8eef8"/>
<rect x="788.4" y="295.4" width="21.2" height="11.4" rx="1" fill="#eef2f9" stroke="#1b2447" stroke-width="1.7"/><path d="M793 300.8 H805" stroke="#1b2447" stroke-width="1.6"/>
<path d="M848.8 216.6 H878.7" stroke="#12162e" stroke-width="2.2"/>
<path d="M848.8 238.6 H878.7" stroke="#1b4fd0" stroke-width="1.7" stroke-dasharray="5.2 3"/>
<path d="M799.9 357.8 L802 378" stroke="#1a2545" stroke-width="2.4" stroke-linecap="round"/><path d="M827.5 357.8 L825.3 378" stroke="#1a2545" stroke-width="2.4" stroke-linecap="round"/><rect x="790.2" y="377" width="46.6" height="18.4" rx="3" fill="#2b4070"/><path d="M790.2 388.408 H836.8 V392.4 a3 3 0 0 1 -3 3 H793.2 a3 3 0 0 1 -3 -3 Z" fill="#1d2d55"/><circle cx="799" cy="388.4" r="1.6" fill="#a4e05a"/><circle cx="806.5" cy="388.4" r="1.4" fill="#a4e05a"/><circle cx="819.5" cy="388.4" r="1.4" fill="#f2f4f8"/><circle cx="824.5" cy="388.4" r="1.4" fill="#f2f4f8"/><circle cx="829.2" cy="388.4" r="1.5" fill="#ffffff"/>
<path d="M796 377 H831 L836.8 382.4 H790.2 Z" fill="#34497a"/>
<g stroke="#1b4fc4" stroke-width="1.7" stroke-dasharray="5.5 3.2" fill="none"><path d="M788.8 401.5 L734.8 431.4"/><path d="M814.1 402.4 V426.2"/><path d="M841.2 401.5 L901 427.9"/></g>
<rect x="715.5" y="437.6" width="28.6" height="22.9" rx="1.5" fill="#1c2b4a"/><rect x="717.2" y="439.3" width="25.2" height="18.5" fill="url(#scrG)"/><path d="M715.5 459.5 H744.1 L748.9 463.7 Q748.9 465.7 746.9 465.7 H712.2 Q710.2 465.7 710.2 463.7 Z" fill="#2a3b5e"/><rect x="726.082" y="461.67" width="7.436" height="1.3" fill="#dfe8f5"/>
<rect x="803.9" y="431.4" width="21.1" height="35.2" rx="3" fill="#1c2b4a"/><rect x="806.2" y="435.6" width="16.5" height="25.6" fill="url(#scrG)"/><rect x="812.8" y="462.8" width="3.4" height="1.8" fill="#e8eef8"/><rect x="811.5" y="433" width="6" height="1.1" fill="#5a6a8a"/>
<rect x="905.9" y="428.8" width="29.3" height="37.8" rx="3" fill="#1c2b4a"/><rect x="908.8" y="432.6" width="23.5" height="28.6" fill="url(#scrG)"/><rect x="918.8" y="462.8" width="3.6" height="1.8" fill="#e8eef8"/>
</g>
<g id="p3i" fill="#fff" stroke="none">
<rect x="1062.3" y="203.6" width="7.2" height="6.6" rx="0.8"/><rect x="1052" y="222.4" width="8" height="6.6" rx="0.8"/><rect x="1072.2" y="222.4" width="8" height="6.6" rx="0.8"/>
<path d="M1065.9 210 V214 M1056 222.6 V218.6 H1063.6 M1076.2 222.6 V218.6 H1068.2" stroke="#fff" stroke-width="1.7" fill="none"/><path d="M1065.9 213.4 L1068.6 217.6 L1065.9 220.8 L1063.2 217.6 Z" fill="none" stroke="#fff" stroke-width="1.3"/>
<g fill="none" stroke="#fff" stroke-width="2.2" stroke-linecap="round"><path d="M1054.2 262.4 A15.5 15.5 0 0 1 1077.6 262.4"/><path d="M1057.8 266.6 A10.6 10.6 0 0 1 1074 266.6"/><path d="M1061.6 270.6 A5.8 5.8 0 0 1 1070.2 270.6"/></g><path d="M1065.9 277.6 L1063.4 274.4 a2.6 2.6 0 1 1 5 0 Z"/>
<rect x="1052" y="316.7" width="27.8" height="7.2" rx="1"/><path d="M1057.4 305.8 V317 M1075.1 305.8 V317" stroke="#fff" stroke-width="1.5"/><circle cx="1065.9" cy="311.6" r="1.2"/>
<path d="M1054.4 320.3 h6 M1062.6 320.3 h4 M1068.4 320.3 h8.6" stroke="#6b36aa" stroke-width="1.3"/>
<rect x="1051.9" y="364.4" width="28" height="7" rx="1"/><path d="M1058 352 V365 M1074.3 352 V365" stroke="#fff" stroke-width="1.6"/>
<path d="M1054.6 367.9 h6.6 M1065 367.9 h1.4 M1069.8 367.9 h7.4" stroke="#6b36aa" stroke-width="1.2"/>
<path d="M1065.9 399.6 C1069.4 402 1072.8 402.8 1076.2 403 C1076.4 413.6 1073 420.6 1065.9 424.8 C1058.8 420.6 1055.4 413.6 1055.6 403 C1059 402.8 1062.4 402 1065.9 399.6 Z"/><path d="M1065.9 408.6 V417 M1061.7 412.8 H1070.1" stroke="#6b36aa" stroke-width="1.7" stroke-linecap="round"/>
<g fill="none" stroke="#fff" stroke-width="1.5" stroke-linejoin="round"><path d="M1053.2 472 L1064.4 462.6 L1067 465.6 L1055.8 475 a2 2 0 0 1 -2.6 -3 Z"/><path d="M1066 459.6 L1073.6 453.4 a2 2 0 0 1 2.8 0.3 L1078.2 456 a2 2 0 0 1 -0.3 2.8 L1070.4 465 a2 2 0 0 1 -2.8 -0.3 L1065.8 462.4 a2 2 0 0 1 0.2 -2.8 Z"/><path d="M1071.6 458.6 l2.6 -2.1"/></g>
</g>
<g id="p4i">
<circle cx="47.6" cy="555.5" r="9.5" fill="#10756e"/>
<circle cx="47.6" cy="600.7" r="9.5" fill="#10756e"/>
<circle cx="47.6" cy="647.2" r="9.5" fill="#10756e"/>
<circle cx="47.6" cy="693.7" r="9.5" fill="#10756e"/>
<path d="M47.6 570 V583.6 M45 580.6 L47.6 583.6 L50.2 580.6" stroke="#1f5f6a" stroke-width="1.1" fill="none"/>
<path d="M47.6 615.5 V629.5 M45 626.5 L47.6 629.5 L50.2 626.5" stroke="#1f5f6a" stroke-width="1.1" fill="none"/>
<path d="M47.6 662 V676 M45 673 L47.6 676 L50.2 673" stroke="#1f5f6a" stroke-width="1.1" fill="none"/>
<path d="M98 580.8 V589.6 M95.6 586.8 L98 589.6 L100.4 586.8" stroke="#12162e" stroke-width="1.5" fill="none" stroke-linejoin="round"/>
<path d="M98 626 V635.6 M95.6 632.8 L98 635.6 L100.4 632.8" stroke="#12162e" stroke-width="1.5" fill="none" stroke-linejoin="round"/>
<path d="M98 672.4 V682.2 M95.6 679.4 L98 682.2 L100.4 679.4" stroke="#12162e" stroke-width="1.5" fill="none" stroke-linejoin="round"/>
<path d="M330.3 593.6 H369.4 L375.6 602.4 V615.8 a3 3 0 0 1 -3 3 H326.3 a3 3 0 0 1 -3 -3 V602.4 Z" fill="#232d45"/><path d="M330.3 593.6 H369.4 L375.6 602.4 H323.3 Z" fill="#46546f"/>
<path d="M330.3 618.2 H369.4 L375.6 621.6 V635 a3 3 0 0 1 -3 3 H326.3 a3 3 0 0 1 -3 -3 V621.6 Z" fill="#232d45"/><path d="M330.3 618.2 H369.4 L375.6 621.6 H323.3 Z" fill="#3a4761"/>
<circle cx="333.8" cy="610.6" r="2.1" fill="#e6e048"/><circle cx="342" cy="610.6" r="2" fill="#e6e048"/><circle cx="354.5" cy="610.6" r="2" fill="#f2f2ee"/><circle cx="359.7" cy="610.6" r="1.5" fill="#e8e6d8"/><circle cx="365.2" cy="610.6" r="2.2" fill="#f0e24a"/>
<circle cx="333.8" cy="630.1" r="2.1" fill="#e6e048"/><circle cx="342" cy="630.1" r="2" fill="#e6e048"/><circle cx="354.5" cy="630.1" r="2" fill="#f2f2ee"/><circle cx="359.7" cy="630.1" r="1.5" fill="#e8e6d8"/><circle cx="365.2" cy="630.1" r="2.2" fill="#f0e24a"/>
<path d="M358.6 597.6 h1 M362 597.4 h1" stroke="#1a2438" stroke-width="1"/>
</g>
<g id="p56">
<circle cx="425" cy="559.7" r="7.6" fill="#1b8a4e"/><path d="M421.4 559.9 L424 562.5 L428.8 557.1" fill="none" stroke="#fff" stroke-width="1.8" stroke-linecap="round" stroke-linejoin="round"/>
<circle cx="752.8" cy="559.7" r="7.6" fill="#d42a25"/><path d="M750 556.9 L755.6 562.5 M755.6 556.9 L750 562.5" fill="none" stroke="#fff" stroke-width="1.9" stroke-linecap="round"/>
<circle cx="425" cy="588.4" r="7.6" fill="#1b8a4e"/><path d="M421.4 588.6 L424 591.2 L428.8 585.8" fill="none" stroke="#fff" stroke-width="1.8" stroke-linecap="round" stroke-linejoin="round"/>
<circle cx="752.8" cy="588.4" r="7.6" fill="#d42a25"/><path d="M750 585.6 L755.6 591.2 M755.6 585.6 L750 591.2" fill="none" stroke="#fff" stroke-width="1.9" stroke-linecap="round"/>
<circle cx="425" cy="618.3" r="7.6" fill="#1b8a4e"/><path d="M421.4 618.5 L424 621.1 L428.8 615.7" fill="none" stroke="#fff" stroke-width="1.8" stroke-linecap="round" stroke-linejoin="round"/>
<circle cx="752.8" cy="618.3" r="7.6" fill="#d42a25"/><path d="M750 615.5 L755.6 621.1 M755.6 615.5 L750 621.1" fill="none" stroke="#fff" stroke-width="1.9" stroke-linecap="round"/>
<circle cx="425" cy="647.8" r="7.6" fill="#1b8a4e"/><path d="M421.4 648 L424 650.6 L428.8 645.2" fill="none" stroke="#fff" stroke-width="1.8" stroke-linecap="round" stroke-linejoin="round"/>
<circle cx="752.8" cy="647.8" r="7.6" fill="#d42a25"/><path d="M750 645 L755.6 650.6 M755.6 645 L750 650.6" fill="none" stroke="#fff" stroke-width="1.9" stroke-linecap="round"/>
<circle cx="425" cy="677.2" r="7.6" fill="#1b8a4e"/><path d="M421.4 677.4 L424 680 L428.8 674.6" fill="none" stroke="#fff" stroke-width="1.8" stroke-linecap="round" stroke-linejoin="round"/>
<circle cx="752.8" cy="677.2" r="7.6" fill="#d42a25"/><path d="M750 674.4 L755.6 680 M755.6 674.4 L750 680" fill="none" stroke="#fff" stroke-width="1.9" stroke-linecap="round"/>
</g>
<g id="p7">
<path d="M1077.8 601.7 L1077.8 567.8" stroke="#1b3d5e" stroke-width="1.8"/>
<path d="M1077.8 601.7 L1051.8 587.3" stroke="#1b3d5e" stroke-width="1.8"/>
<path d="M1077.8 601.7 L1103.5 587.3" stroke="#1b3d5e" stroke-width="1.8"/>
<path d="M1077.8 601.7 L1060 624.3" stroke="#1b3d5e" stroke-width="1.8"/>
<path d="M1077.8 601.7 L1095.6 624.3" stroke="#1b3d5e" stroke-width="1.8"/>
<circle cx="1077.8" cy="601.7" r="9.2" fill="url(#nodeB)"/>
<circle cx="1077.8" cy="567.8" r="5.6" fill="url(#nodeB)"/>
<circle cx="1051.8" cy="587.3" r="5.6" fill="url(#nodeB)"/>
<circle cx="1103.5" cy="587.3" r="5.6" fill="url(#nodeB)"/>
<circle cx="1060" cy="624.3" r="5.6" fill="url(#nodeB)"/>
<circle cx="1095.6" cy="624.3" r="5.6" fill="url(#nodeB)"/>
<path d="M1152 608.2 H1237" stroke="#14233c" stroke-width="2.6"/><path d="M1195 608.2 V624" stroke="#1b3d5e" stroke-width="1.7"/>
<rect x="1147.6" y="604.8" width="9" height="6.8" rx="3" fill="url(#nodeB)"/><rect x="1232.6" y="604.8" width="9" height="6.8" rx="3" fill="url(#nodeB)"/>
<circle cx="1195" cy="608.2" r="2.6" fill="#1b3d5e"/>
<circle cx="1195" cy="626.8" r="5.2" fill="url(#nodeB)"/>
<path d="M1169 592.6 V608" stroke="#14233c" stroke-width="1.5"/>
<rect x="1161.4" y="579.4" width="15.2" height="10.8" rx="1.2" fill="#1c2b4a"/><rect x="1162.8" y="580.8" width="12.4" height="7.6" fill="#5aa0ea"/>
<path d="M1167.5 590 L1165 592.8 H1173 L1170.5 590 Z" fill="#1c2b4a"/>
<path d="M1220.3 592.6 V608" stroke="#14233c" stroke-width="1.5"/>
<rect x="1212.7" y="579.4" width="15.2" height="10.8" rx="1.2" fill="#1c2b4a"/><rect x="1214.1" y="580.8" width="12.4" height="7.6" fill="#5aa0ea"/>
<path d="M1218.8 590 L1216.3 592.8 H1224.3 L1221.8 590 Z" fill="#1c2b4a"/>
<circle cx="1314" cy="598.6" r="32.4" fill="none" stroke="#14233c" stroke-width="1.7"/>
<circle cx="1314" cy="566.2" r="5.9" fill="url(#nodeB)"/>
<circle cx="1314" cy="631" r="5.9" fill="url(#nodeB)"/>
<circle cx="1281.6" cy="598.6" r="5.9" fill="url(#nodeB)"/>
<circle cx="1346.4" cy="598.6" r="5.9" fill="url(#nodeB)"/>
<g fill="none" stroke="#14233c" stroke-width="1.6">
<path d="M1445.6 566 V578 Q1445.6 582.6 1441 582.6 H1421 Q1415 582.6 1415 588.6 V598"/><path d="M1445.6 578 Q1445.6 582.6 1450.2 582.6 H1470.4 Q1476.4 582.6 1476.4 588.6 V598"/>
<path d="M1415 598.6 V608 L1403 621 M1415 608 L1427.5 621"/>
<path d="M1476.4 598.6 V608 L1464.5 621 M1476.4 608 L1488.8 621"/>
</g>
<circle cx="1445.6" cy="565.8" r="6.4" fill="url(#nodeB)"/>
<circle cx="1415" cy="598.6" r="5.4" fill="url(#nodeB)"/>
<circle cx="1476.4" cy="598.6" r="5.4" fill="url(#nodeB)"/>
<circle cx="1403" cy="627.2" r="5.4" fill="url(#nodeB)"/>
<circle cx="1427.5" cy="627.2" r="5.4" fill="url(#nodeB)"/>
<circle cx="1464.5" cy="627.2" r="5.4" fill="url(#nodeB)"/>
<circle cx="1488.8" cy="627.2" r="5.4" fill="url(#nodeB)"/>
</g>
<g id="p8i">
<path d="M49 832.8 L60.7 822.6 L72.4 832.8 V848.8 H49 Z" fill="#cdd8e9"/>
<path d="M49 833.4 V848.8 H72.4 V833.4" fill="none" stroke="#172a4e" stroke-width="2" stroke-linejoin="round"/>
<path d="M45.2 833 L60.7 819.8 L76.2 833" fill="none" stroke="#172a4e" stroke-width="3" stroke-linecap="round" stroke-linejoin="round"/>
<path d="M58 848.8 V842.6 a2.7 2.7 0 0 1 5.4 0 V848.8 Z" fill="#172a4e"/><path d="M54.2 838.2 a8.4 8.4 0 0 1 13 0 M56.6 841 a5 5 0 0 1 8.2 0" fill="none" stroke="#1e4f78" stroke-width="2" stroke-linecap="round"/><circle cx="60.7" cy="836.4" r="2.2" fill="#1b456e"/>
<rect x="211.568" y="821.3" width="13.464" height="28" fill="#e8eef8" stroke="#172a4e" stroke-width="1.6"/><rect x="213.068" y="818.3" width="10.464" height="3" fill="#172a4e"/><rect x="204.5" y="830.3" width="7.068" height="19" fill="#e8eef8" stroke="#172a4e" stroke-width="1.5"/><rect x="225.032" y="830.3" width="7.068" height="19" fill="#e8eef8" stroke="#172a4e" stroke-width="1.5"/><rect x="214.168" y="824.7" width="2.2" height="3" fill="#172a4e"/><rect x="217.2" y="824.7" width="2.2" height="3" fill="#172a4e"/><rect x="220.232" y="824.7" width="2.2" height="3" fill="#172a4e"/><rect x="214.168" y="829.7" width="2.2" height="3" fill="#172a4e"/><rect x="217.2" y="829.7" width="2.2" height="3" fill="#172a4e"/><rect x="220.232" y="829.7" width="2.2" height="3" fill="#172a4e"/><rect x="214.168" y="834.7" width="2.2" height="3" fill="#172a4e"/><rect x="217.2" y="834.7" width="2.2" height="3" fill="#172a4e"/><rect x="220.232" y="834.7" width="2.2" height="3" fill="#172a4e"/><rect x="214.168" y="839.7" width="2.2" height="3" fill="#172a4e"/><rect x="217.2" y="839.7" width="2.2" height="3" fill="#172a4e"/><rect x="220.232" y="839.7" width="2.2" height="3" fill="#172a4e"/><rect x="206" y="833.3" width="1.8" height="3" fill="#172a4e"/><rect x="207.968" y="833.3" width="1.8" height="3" fill="#172a4e"/><rect x="226.632" y="833.3" width="1.8" height="3" fill="#172a4e"/><rect x="228.6" y="833.3" width="1.8" height="3" fill="#172a4e"/><rect x="206" y="838.3" width="1.8" height="3" fill="#172a4e"/><rect x="207.968" y="838.3" width="1.8" height="3" fill="#172a4e"/><rect x="226.632" y="838.3" width="1.8" height="3" fill="#172a4e"/><rect x="228.6" y="838.3" width="1.8" height="3" fill="#172a4e"/><rect x="206" y="843.3" width="1.8" height="3" fill="#172a4e"/><rect x="207.968" y="843.3" width="1.8" height="3" fill="#172a4e"/><rect x="226.632" y="843.3" width="1.8" height="3" fill="#172a4e"/><rect x="228.6" y="843.3" width="1.8" height="3" fill="#172a4e"/><path d="M215.9 849.3 V845.3 a2.4 2.4 0 0 1 4.8 0 V849.3 Z" fill="#172a4e"/><path d="M203 849.9 H233.6" stroke="#172a4e" stroke-width="1.8" stroke-linecap="round"/>
<path d="M346.4 829.6 L365.8 819.2 L385.2 829.6 L365.8 840 Z" fill="#1d3d66"/>
<path d="M354.4 836.2 V844.6 C358 850.6 373.6 850.6 377.2 844.6 V836.2 L365.8 842.4 Z" fill="#1d3d66"/>
<path d="M349.4 832 V843 M382.2 832 V843" stroke="#1d3d66" stroke-width="1.2"/><circle cx="349.4" cy="844.4" r="1.5" fill="#1d3d66"/><circle cx="382.2" cy="844.4" r="1.5" fill="#1d3d66"/>
<rect x="526.968" y="820.5" width="14.564" height="29.1" fill="#e8eef8" stroke="#172a4e" stroke-width="1.6"/><rect x="528.468" y="817.5" width="11.564" height="3" fill="#172a4e"/><rect x="519.2" y="829.5" width="7.768" height="20.1" fill="#e8eef8" stroke="#172a4e" stroke-width="1.5"/><rect x="541.532" y="829.5" width="7.768" height="20.1" fill="#e8eef8" stroke="#172a4e" stroke-width="1.5"/><rect x="529.568" y="823.9" width="2.2" height="3" fill="#172a4e"/><rect x="533.15" y="823.9" width="2.2" height="3" fill="#172a4e"/><rect x="536.732" y="823.9" width="2.2" height="3" fill="#172a4e"/><rect x="529.568" y="828.9" width="2.2" height="3" fill="#172a4e"/><rect x="533.15" y="828.9" width="2.2" height="3" fill="#172a4e"/><rect x="536.732" y="828.9" width="2.2" height="3" fill="#172a4e"/><rect x="529.568" y="833.9" width="2.2" height="3" fill="#172a4e"/><rect x="533.15" y="833.9" width="2.2" height="3" fill="#172a4e"/><rect x="536.732" y="833.9" width="2.2" height="3" fill="#172a4e"/><rect x="529.568" y="838.9" width="2.2" height="3" fill="#172a4e"/><rect x="533.15" y="838.9" width="2.2" height="3" fill="#172a4e"/><rect x="536.732" y="838.9" width="2.2" height="3" fill="#172a4e"/><rect x="520.7" y="832.5" width="1.8" height="3" fill="#172a4e"/><rect x="523.368" y="832.5" width="1.8" height="3" fill="#172a4e"/><rect x="543.132" y="832.5" width="1.8" height="3" fill="#172a4e"/><rect x="545.8" y="832.5" width="1.8" height="3" fill="#172a4e"/><rect x="520.7" y="837.5" width="1.8" height="3" fill="#172a4e"/><rect x="523.368" y="837.5" width="1.8" height="3" fill="#172a4e"/><rect x="543.132" y="837.5" width="1.8" height="3" fill="#172a4e"/><rect x="545.8" y="837.5" width="1.8" height="3" fill="#172a4e"/><rect x="520.7" y="842.5" width="1.8" height="3" fill="#172a4e"/><rect x="523.368" y="842.5" width="1.8" height="3" fill="#172a4e"/><rect x="543.132" y="842.5" width="1.8" height="3" fill="#172a4e"/><rect x="545.8" y="842.5" width="1.8" height="3" fill="#172a4e"/><path d="M531.85 849.6 V845.6 a2.4 2.4 0 0 1 4.8 0 V849.6 Z" fill="#172a4e"/><path d="M517.7 850.2 H550.8" stroke="#172a4e" stroke-width="1.8" stroke-linecap="round"/>
<path d="M690.2 821.2 h7.8 v9.2 h9.2 v7.8 h-9.2 v9.2 h-7.8 v-9.2 h-9.2 v-7.8 h9.2 Z" fill="#1f5a8c"/>
<path d="M848.2 850 V834 L850 822.4 H854.4 L856.2 834 L863.2 829.4 V834 L870.2 829.4 V834 L877 829.4 V850 Z" fill="#1d3358"/>
<rect x="849.4" y="818" width="5.6" height="3.6" rx="0.8" fill="#1d3358"/>
<circle cx="854.6" cy="842" r="1.7" fill="#f0f4fa"/>
<circle cx="861.2" cy="842" r="1.7" fill="#f0f4fa"/>
<circle cx="867.8" cy="842" r="1.7" fill="#f0f4fa"/>
</g>
<g id="fti">
<path d="M55.2 961.6 a11.1 11.1 0 0 1 7.2 19.6 c-1.6 1.5 -2 3.2 -2 5.3 h-10.4 c0 -2.1 -0.4 -3.8 -2 -5.3 A11.1 11.1 0 0 1 55.2 961.6 Z" fill="#f8bc04" stroke="#1a2238" stroke-width="1.7"/>
<path d="M53.4 985 L52 976 M57 985 L58.4 976" stroke="#fdf0b8" stroke-width="1.1" fill="none" stroke-linecap="round"/><path d="M48.6 970.4 a7.4 7.4 0 0 1 4.6 -4.8" stroke="#fff3b8" stroke-width="1.6" fill="none" stroke-linecap="round"/>
<path d="M50.4 988.2 H60 M50.8 990.8 H59.6" stroke="#7d7a78" stroke-width="2.2" stroke-linecap="round"/><path d="M51.6 992.6 H58.8 L56.6 995.4 H53.8 Z" fill="#3a3a42" stroke="#3a3a42" stroke-width="0.8" stroke-linejoin="round"/>
<path d="M55.2 955.4 V959.4 M38.2 972.7 H41.8 M68.8 972.7 H72.8 M64.8 962.9 L67.4 960.3" stroke="#1a2238" stroke-width="1.5" stroke-linecap="round"/>
<path d="M679.4 973 L682.2 988" stroke="#1a2545" stroke-width="2" stroke-linecap="round"/><path d="M707.1 973 L704.3 988" stroke="#1a2545" stroke-width="2" stroke-linecap="round"/><rect x="670.8" y="987.3" width="44.9" height="12.9" rx="3" fill="#2b4070"/><path d="M670.8 995.298 H715.7 V997.2 a3 3 0 0 1 -3 3 H673.8 a3 3 0 0 1 -3 -3 Z" fill="#1d2d55"/><circle cx="679" cy="994" r="1.3" fill="#a4e05a"/><circle cx="685.4" cy="994" r="1.2" fill="#a4e05a"/><circle cx="699.4" cy="994" r="1.1" fill="#f2f4f8"/><circle cx="703.6" cy="994" r="1.1" fill="#f2f4f8"/><circle cx="707.8" cy="994" r="1.2" fill="#ffffff"/>
<path d="M769 985.8 h3.4 M774.4 985.8 H783.8" stroke="#1b3a9c" stroke-width="1.3" fill="none"/><path d="M786.8 985.8 l-4.6 -2.6 v5.2 Z" fill="#1b3a9c"/>
<path d="M801 975.8 H835.7 L840.7 984.4 V996.6 a3 3 0 0 1 -3 3 H799 a3 3 0 0 1 -3 -3 V984.4 Z" fill="#1f2d4a"/><path d="M801 975.8 H835.7 L840.7 984.4 H796 Z" fill="#2c3c5c"/><path d="M796 995.1 H840.7 V996.6 a3 3 0 0 1 -3 3 H799 a3 3 0 0 1 -3 -3 Z" fill="#182440"/><circle cx="803" cy="991.8" r="1.3" fill="#a4e05a"/><circle cx="809.6" cy="991.8" r="1.3" fill="#a4e05a"/><circle cx="821.6" cy="991.8" r="1.2" fill="#f2f4f8"/><circle cx="826.6" cy="991.8" r="1.2" fill="#f2f4f8"/><circle cx="832" cy="991.8" r="1.3" fill="#f6e28a"/>
<circle cx="827" cy="979.4" r="0.8" fill="#0f172c"/>
<path d="M892.8 985.8 h3.4 M898.2 985.8 H905.2" stroke="#1b3a9c" stroke-width="1.3" fill="none"/><path d="M908.2 985.8 l-4.6 -2.6 v5.2 Z" fill="#1b3a9c"/>
<path d="M924.9 964.6 L928.4 984" stroke="#1a2545" stroke-width="2" stroke-linecap="round"/><path d="M951 964.6 L947.5 984" stroke="#1a2545" stroke-width="2" stroke-linecap="round"/><rect x="917.2" y="982" width="43" height="17.6" rx="3" fill="#2b4070"/><path d="M917.2 992.912 H960.2 V996.6 a3 3 0 0 1 -3 3 H920.2 a3 3 0 0 1 -3 -3 Z" fill="#1d2d55"/><circle cx="924.6" cy="993.2" r="1.3" fill="#a4e05a"/><circle cx="931" cy="993.2" r="1.2" fill="#a4e05a"/><circle cx="943.6" cy="993.2" r="1.1" fill="#f2f4f8"/><circle cx="947.8" cy="993.2" r="1.1" fill="#f2f4f8"/><circle cx="952" cy="993.2" r="1.2" fill="#ffffff"/>
<g fill="none" stroke="#1b3a8c" stroke-width="1.1" stroke-linecap="round"><path d="M933.2 960.6 a7.4 7.4 0 0 1 11 0"/><path d="M935.2 963 a4.8 4.8 0 0 1 7 0"/><path d="M937.2 965.4 a2.2 2.2 0 0 1 3 0"/></g><circle cx="938.7" cy="967.4" r="0.9" fill="#1b3a8c"/>
<path d="M1066.4 960 V968 M1071 959.4 V968 M1075.6 960 V968" stroke="#3a4a64" stroke-width="1.5" stroke-linecap="round"/><circle cx="1066.4" cy="960" r="1" fill="#3a4a64"/><circle cx="1071" cy="959.4" r="1" fill="#3a4a64"/><circle cx="1075.6" cy="960" r="1" fill="#3a4a64"/>
<path d="M1063.6 967 H1078.4 V977 C1078.4 984 1074.6 986 1073.8 990 V998.6 a2.8 2.8 0 0 1 -5.6 0 V990 C1067.4 986 1063.6 984 1063.6 977 Z" fill="#2f63b4"/><path d="M1066 969 V978 C1066 982 1068 985 1069.4 988" stroke="#5a8fdc" stroke-width="1.3" fill="none"/>
<path d="M1186.7 956 V969" stroke="#1c4a2c" stroke-width="2.2" stroke-linecap="round"/>
<rect x="1156" y="967.4" width="40.6" height="30" rx="2" fill="#2c8c4c" stroke="#185030" stroke-width="1.6"/><rect x="1196" y="973" width="5" height="22" fill="#1f6a3a" stroke="#185030" stroke-width="1"/><rect x="1153" y="970" width="4" height="6" fill="#1f6a3a"/><rect x="1153" y="988" width="4" height="6" fill="#1f6a3a"/>
<circle cx="1177" cy="981" r="4.6" fill="#d8e4dc" stroke="#185030" stroke-width="1"/><circle cx="1177" cy="980.4" r="1.6" fill="#185030"/><rect x="1176.2" y="981" width="1.6" height="3.6" fill="#185030"/>
<path d="M1160 972 h8 v5 M1160 990 h10 l3 -3 M1184 990 h8 M1186 972 v6 h6 M1162 980 h6 v5" stroke="#7fd08a" stroke-width="0.9" fill="none"/><rect x="1187" y="971" width="6" height="8" fill="#185030" opacity="0.7"/><circle cx="1161" cy="994.4" r="1" fill="#d8c860"/><circle cx="1192" cy="994.4" r="1" fill="#d8c860"/>
<rect x="1350.6" y="962.2" width="42.8" height="30.2" rx="2" fill="#1c2b4a"/><rect x="1353" y="964.6" width="38" height="21.776" fill="url(#scrG)"/><path d="M1367.72 991.9 L1365.15 997.9 H1378.85 L1376.28 991.9 Z" fill="#1c2b4a"/><rect x="1361.7" y="997.2" width="20.6" height="2.2" rx="1" fill="#1c2b4a"/><circle cx="1372" cy="990.135" r="0.8" fill="#dfe8f5"/>
<rect x="1398.1" y="982.7" width="22.8" height="13.7" rx="1.5" fill="#1c2b4a"/><rect x="1399.5" y="984.1" width="20" height="9.9" fill="url(#scrG)"/><path d="M1398.1 995.4 H1420.9 L1424.4 997.2 Q1424.4 999.2 1422.4 999.2 H1396.3 Q1394.3 999.2 1394.3 997.2 Z" fill="#2a3b5e"/><rect x="1406.54" y="996.73" width="5.928" height="1.3" fill="#dfe8f5"/>
</g>
</svg>
<div id="tx">
<div class="t b H" style="left:278.31px;top:7px;font-size:48.5px;line-height:54px;color:#ffffff;transform:scaleX(0.9681)">LOCAL AREA NETWORKS (LAN) EXPLAINED</div>
<div class="t b h" style="left:458.97px;top:61px;font-size:26.5px;line-height:30px;color:#ffd91e;transform:scaleX(1.026)">Principles, Technologies, and Practical Use Cases</div>
<div class="t b" style="left:291px;top:96px;font-size:18.5px;line-height:21px;color:#ffffff;transform:scaleX(0.9295)">A Local Area Network (LAN) connects devices within a limited area—such as a home, office, school, or building—</div>
<div class="t b" style="left:408px;top:117px;font-size:18.5px;line-height:21px;color:#ffffff;transform:scaleX(0.9261)">enabling them to communicate, share resources, and access applications efficiently.</div>
<div class="t b" style="left:149.99px;top:158px;font-size:17.5px;line-height:20px;color:#ffffff;transform:scaleX(1.0184)">1. WHAT IS A LAN?</div>
<div class="t b" style="left:557.4px;top:158px;font-size:17.5px;line-height:20px;color:#ffffff;transform:scaleX(0.9695)">2. LAN ARCHITECTURE (EXAMPLE)</div>
<div class="t b" style="left:1139.6px;top:158px;font-size:17.5px;line-height:20px;color:#ffffff;transform:scaleX(0.961)">3. KEY TECHNOLOGIES IN LAN</div>
<div class="t b" style="left:69px;top:513px;font-size:16.5px;line-height:18px;color:#ffffff;transform:scaleX(0.9551)">4. HOW LAN WORKS (BASIC FLOW)</div>
<div class="t b" style="left:468.6px;top:513px;font-size:16.5px;line-height:18px;color:#ffffff;transform:scaleX(0.9501)">5. ADVANTAGES OF LAN</div>
<div class="t b" style="left:783.5px;top:513px;font-size:16.5px;line-height:18px;color:#ffffff;transform:scaleX(0.9663)">6. LIMITATIONS OF LAN</div>
<div class="t b" style="left:1133.3px;top:513px;font-size:16.5px;line-height:18px;color:#ffffff;transform:scaleX(0.9364)">7. COMMON LAN TOPOLOGIES</div>
<div class="t b" style="left:367.6px;top:780px;font-size:16.5px;line-height:18px;color:#ffffff;transform:scaleX(0.9825)">8. PRACTICAL USE CASES</div>
<div class="t b" style="left:1114.5px;top:751px;font-size:16.5px;line-height:18px;color:#ffffff;transform:scaleX(0.9508)">9. LAN VS WAN (QUICK COMPARISON)</div>
<div class="t m" style="left:46.38px;top:196px;font-size:14.2px;line-height:16px;transform:scaleX(0.9742)">A LAN is a privately owned network that connects</div>
<div class="t m" style="left:46.39px;top:215px;font-size:14.2px;line-height:16px;transform:scaleX(0.96)">devices in a small geographic area.</div>
<div class="t m" style="left:46.38px;top:234px;font-size:14.2px;line-height:16px;transform:scaleX(0.9752)">It is designed for high-speed data transfer</div>
<div class="t m" style="left:46.38px;top:253px;font-size:14.2px;line-height:16px;transform:scaleX(0.9731)">and resource sharing.</div>
<div class="t b" style="left:81.6px;top:285px;font-size:13.5px;line-height:15px;transform:scaleX(0.9171)">Coverage:</div>
<div class="t m" style="left:151.41px;top:285px;font-size:13.5px;line-height:15px;transform:scaleX(0.9666)">Room, Building, Campus</div>
<div class="t b" style="left:81.6px;top:313px;font-size:13.5px;line-height:15px;transform:scaleX(0.934)">Ownership:</div>
<div class="t m" style="left:162.39px;top:313px;font-size:13.5px;line-height:15px;transform:scaleX(1.0021)">Private</div>
<div class="t b" style="left:81.6px;top:340px;font-size:13.5px;line-height:15px;transform:scaleX(0.9412)">Speed:</div>
<div class="t m" style="left:138.41px;top:340px;font-size:13.5px;line-height:15px;transform:scaleX(0.9723)">High (100 Mbps to 10+ Gbps)</div>
<div class="t b" style="left:81.6px;top:370px;font-size:13.5px;line-height:15px;transform:scaleX(0.9339)">Latency:</div>
<div class="t m" style="left:146.4px;top:370px;font-size:13.5px;line-height:15px;transform:scaleX(0.9832)">Low</div>
<div class="t b" style="left:81.6px;top:400px;font-size:13.5px;line-height:15px;transform:scaleX(0.9234)">Cost:</div>
<div class="t m" style="left:126.86px;top:400px;font-size:13.5px;line-height:15px;transform:scaleX(1.0507)">Cost-effective</div>
<div class="t b" style="left:81.6px;top:427px;font-size:13.5px;line-height:15px;transform:scaleX(0.9112)">Examples:</div>
<div class="t m" style="left:151.38px;top:427px;font-size:13.5px;line-height:15px;transform:scaleX(1.0162)">Home networks, office networks,</div>
<div class="t m" style="left:80.87px;top:446px;font-size:13.5px;line-height:15px;transform:scaleX(1.0452)">school labs, enterprise depaartments</div>
<div class="t b" style="left:649.4px;top:210px;font-size:12.6px;line-height:14px;transform:scaleX(1.0129)">Internet</div>
<div class="t b" style="left:665px;top:267px;font-size:12.6px;line-height:14px;transform:scaleX(1.0296)">Router /</div>
<div class="t b" style="left:665px;top:285px;font-size:12.6px;line-height:14px;transform:scaleX(0.9998)">Gateway</div>
<div class="t b" style="left:665px;top:337px;font-size:12.6px;line-height:14px;transform:scaleX(0.9774)">Switch</div>
<div class="t b" style="left:828.4px;top:278px;font-size:11.6px;line-height:12px;transform:scaleX(0.9676)">Network</div>
<div class="t b" style="left:828.4px;top:293px;font-size:11.6px;line-height:12px;transform:scaleX(0.9481)">Printer</div>
<div class="t m" style="left:886.98px;top:210px;font-size:11px;line-height:12px;transform:scaleX(1.0515)">Wired Connection</div>
<div class="t m" style="left:886.99px;top:233px;font-size:11px;line-height:12px;transform:scaleX(1.0303)">Wireless Connection</div>
<div class="t m" style="left:845.51px;top:372px;font-size:11px;line-height:12px;transform:scaleX(0.9962)">Access Point</div>
<div class="t m" style="left:507.14px;top:384px;font-size:10.4px;line-height:11px;color:#1c3040;transform:scaleX(0.9786)">Wired Devices</div>
<div class="t m" style="left:449.19px;top:472px;font-size:10.8px;line-height:12px;transform:scaleX(1.0455)">Desktop</div>
<div class="t m" style="left:515.08px;top:472px;font-size:10.8px;line-height:12px;transform:scaleX(1.0664)">Laptop</div>
<div class="t m" style="left:579.61px;top:472px;font-size:10.8px;line-height:12px;transform:scaleX(1.0179)">Server</div>
<div class="t m" style="left:711.98px;top:472px;font-size:10.8px;line-height:12px;transform:scaleX(1.0633)">Laptop</div>
<div class="t m" style="left:784.09px;top:472px;font-size:10.8px;line-height:12px;transform:scaleX(1.0456)">Smartphone</div>
<div class="t m" style="left:904.78px;top:472px;font-size:10.8px;line-height:12px;transform:scaleX(1.0732)">Tablet</div>
<div class="t b" style="left:1101.7px;top:209px;font-size:13.2px;line-height:15px;transform:scaleX(0.9972)">Ethernet (IEEE 802.3)</div>
<div class="t b" style="left:1101.7px;top:259px;font-size:13.2px;line-height:15px;transform:scaleX(0.9345)">Wi-Fi (IEEE 802.11)</div>
<div class="t b" style="left:1101.7px;top:307px;font-size:13.2px;line-height:15px;transform:scaleX(0.9659)">Switches</div>
<div class="t b" style="left:1101.7px;top:354px;font-size:13.2px;line-height:15px;transform:scaleX(0.9355)">Routers</div>
<div class="t b" style="left:1101.7px;top:404px;font-size:13.2px;line-height:15px;transform:scaleX(0.9521)">VLAN (Virtual LAN)</div>
<div class="t b" style="left:1101.7px;top:457px;font-size:12.6px;line-height:14px;transform:scaleX(0.9595)">UTP / Fiber Optic Cabling</div>
<div class="t m" style="left:1266.62px;top:200px;font-size:13.2px;line-height:15px;transform:scaleX(0.974)">Most widely used LAN technology</div>
<div class="t m" style="left:1266.61px;top:218px;font-size:13.2px;line-height:15px;transform:scaleX(0.9994)">based on wired connections.</div>
<div class="t m" style="left:1266.61px;top:251px;font-size:13.2px;line-height:15px;transform:scaleX(0.9904)">Provides wireless connectivity</div>
<div class="t m" style="left:1266.61px;top:269px;font-size:13.2px;line-height:15px;transform:scaleX(0.9943)">for devices.</div>
<div class="t m" style="left:1266.61px;top:299px;font-size:13.2px;line-height:15px;transform:scaleX(0.9876)">Connect devices in a LAN and</div>
<div class="t m" style="left:1266.61px;top:317px;font-size:13.2px;line-height:15px;transform:scaleX(0.9876)">forward data using MAC addresses.</div>
<div class="t m" style="left:1266.6px;top:347px;font-size:13.2px;line-height:15px;transform:scaleX(1.0028)">Connect LANs to other networks,</div>
<div class="t m" style="left:1266.59px;top:365px;font-size:13.2px;line-height:15px;transform:scaleX(1.0196)">including the Internet.</div>
<div class="t m" style="left:1266.61px;top:396px;font-size:13.2px;line-height:15px;transform:scaleX(0.9922)">Logically segments a LAN for better</div>
<div class="t m" style="left:1266.61px;top:414px;font-size:13.2px;line-height:15px;transform:scaleX(1.001)">security and management.</div>
<div class="t m" style="left:1266.61px;top:447px;font-size:13.2px;line-height:15px;transform:scaleX(0.996)">Physical medium for high-speed,</div>
<div class="t m" style="left:1266.61px;top:465px;font-size:13.2px;line-height:15px;transform:scaleX(0.9958)">reliable data transmission.</div>
<div class="t m" style="left:67.29px;top:548px;font-size:11.4px;line-height:12px;transform:scaleX(1.0017)">A device sends data to another device</div>
<div class="t m" style="left:67.28px;top:564px;font-size:11.4px;line-height:12px;transform:scaleX(1.0193)">within the LAN.</div>
<div class="t m" style="left:67.28px;top:593px;font-size:11.4px;line-height:12px;transform:scaleX(1.0179)">The data is sent to the switch.</div>
<div class="t m" style="left:67.29px;top:609px;font-size:11.4px;line-height:12px;transform:scaleX(0.9932)">The switch reads the destination MAC address.</div>
<div class="t m" style="left:67.26px;top:640px;font-size:11.4px;line-height:12px;transform:scaleX(1.0551)">The switch forwards the data only to</div>
<div class="t m" style="left:67.27px;top:656px;font-size:11.4px;line-height:12px;transform:scaleX(1.0267)">the intended device.</div>
<div class="t m" style="left:67.27px;top:687px;font-size:11.4px;line-height:12px;transform:scaleX(1.0272)">The device receives the data and</div>
<div class="t m" style="left:67.27px;top:703px;font-size:11.4px;line-height:12px;transform:scaleX(1.0313)">sends a response if needed.</div>
<div class="t b c" style="left:349.48px;top:646px;font-size:11.4px;line-height:12px;transform:translateX(-50%) scaleX(0.963)">Switch</div>
<div class="t b c" style="left:84.6px;top:737px;font-size:11.6px;line-height:12px;color:#ffffff;transform:translateX(-50%) scaleX(0.9236)">Result:</div>
<div class="t m" style="left:119.28px;top:730px;font-size:11.4px;line-height:12px;transform:scaleX(1.0061)">Fast, reliable communication within</div>
<div class="t m" style="left:119.27px;top:746px;font-size:11.4px;line-height:12px;transform:scaleX(1.0368)">the local network.</div>
<div class="t b c" style="left:47.58px;top:549px;font-size:12.5px;line-height:14px;color:#ffffff;transform:translateX(-50%) scaleX(1)">1</div>
<div class="t b c" style="left:47.58px;top:594px;font-size:12.5px;line-height:14px;color:#ffffff;transform:translateX(-50%) scaleX(1)">2</div>
<div class="t b c" style="left:47.58px;top:640px;font-size:12.5px;line-height:14px;color:#ffffff;transform:translateX(-50%) scaleX(1)">3</div>
<div class="t b c" style="left:47.58px;top:687px;font-size:12.5px;line-height:14px;color:#ffffff;transform:translateX(-50%) scaleX(1)">4</div>
<div class="t m" style="left:441.83px;top:552px;font-size:13px;line-height:15px;color:#171a27;transform:scaleX(0.9785)">High-speed data transfer</div>
<div class="t m" style="left:441.85px;top:581px;font-size:13px;line-height:15px;color:#171a27;transform:scaleX(0.9319)">Easy resource sharing (files, printers, applications)</div>
<div class="t m" style="left:441.82px;top:610px;font-size:13px;line-height:15px;color:#171a27;transform:scaleX(0.9924)">Centralized management and control</div>
<div class="t m" style="left:441.81px;top:640px;font-size:13px;line-height:15px;color:#171a27;transform:scaleX(1.0092)">Improved security within a private network</div>
<div class="t m" style="left:441.81px;top:669px;font-size:13px;line-height:15px;color:#171a27;transform:scaleX(1.0126)">Cost-effective and scalable</div>
<div class="t m" style="left:769.64px;top:552px;font-size:12.8px;line-height:15px;transform:scaleX(0.9722)">Limited geographic coverage</div>
<div class="t m" style="left:769.63px;top:581px;font-size:12.8px;line-height:15px;transform:scaleX(0.9863)">Initial setup cost (cabling, devices)</div>
<div class="t m" style="left:769.63px;top:610px;font-size:12.8px;line-height:15px;transform:scaleX(0.9823)">Requires maintenance and administration</div>
<div class="t m" style="left:769.63px;top:640px;font-size:12.8px;line-height:15px;transform:scaleX(0.9937)">Security threats if not properly managed</div>
<div class="t m" style="left:769.68px;top:670px;font-size:12px;line-height:14px;transform:scaleX(0.9576)">Dependent on hardware</div>
<div class="t m" style="left:769.67px;top:687px;font-size:12px;line-height:14px;transform:scaleX(0.9778)">(switch, cabling)</div>
<div class="t b c" style="left:1077.99px;top:644px;font-size:12.8px;line-height:15px;color:#171a27;transform:translateX(-50%) scaleX(0.9307)">Star</div>
<div class="t b c" style="left:1195.25px;top:644px;font-size:12.8px;line-height:15px;color:#171a27;transform:translateX(-50%) scaleX(0.8558)">Bus</div>
<div class="t b c" style="left:1314.37px;top:644px;font-size:12.8px;line-height:15px;color:#171a27;transform:translateX(-50%) scaleX(0.916)">Ring</div>
<div class="t b c" style="left:1445.92px;top:644px;font-size:12.8px;line-height:15px;color:#171a27;transform:translateX(-50%) scaleX(0.9495)">Tree (Hierarchical)</div>
<div class="t m" style="left:1029.4px;top:669px;font-size:10.8px;line-height:12px;color:#171a27;transform:scaleX(1.0234)">All devices connect</div>
<div class="t m" style="left:1029.4px;top:685px;font-size:10.8px;line-height:12px;color:#171a27;transform:scaleX(1.0243)">to a central switch.</div>
<div class="t m" style="left:1029.47px;top:701px;font-size:10.8px;line-height:12px;color:#171a27;transform:scaleX(0.89)">Most common in LANs.</div>
<div class="t m" style="left:1146.1px;top:669px;font-size:10.8px;line-height:12px;color:#171a27;transform:scaleX(1.0353)">All devices connect</div>
<div class="t m" style="left:1146.11px;top:685px;font-size:10.8px;line-height:12px;color:#171a27;transform:scaleX(1.0045)">to a single backbone</div>
<div class="t m" style="left:1146.1px;top:701px;font-size:10.8px;line-height:12px;color:#171a27;transform:scaleX(1.0202)">cable.</div>
<div class="t m" style="left:1263.51px;top:669px;font-size:10.8px;line-height:12px;color:#171a27;transform:scaleX(1.0108)">Each device connects</div>
<div class="t m" style="left:1263.48px;top:685px;font-size:10.8px;line-height:12px;color:#171a27;transform:scaleX(1.0724)">to two others,</div>
<div class="t m" style="left:1263.49px;top:701px;font-size:10.8px;line-height:12px;color:#171a27;transform:scaleX(1.0579)">forming a ring.</div>
<div class="t m" style="left:1391px;top:669px;font-size:10.8px;line-height:12px;color:#171a27;transform:scaleX(1.0369)">Combination of star</div>
<div class="t m" style="left:1390.99px;top:685px;font-size:10.8px;line-height:12px;color:#171a27;transform:scaleX(1.0484)">topologies in a</div>
<div class="t m" style="left:1390.99px;top:701px;font-size:10.8px;line-height:12px;color:#171a27;transform:scaleX(1.0435)">hierarchical structure.</div>
<div class="t b c" style="left:1067.09px;top:780px;font-size:12.2px;line-height:14px;color:#171a27;transform:translateX(-50%) scaleX(0.9717)">Feature</div>
<div class="t b c" style="left:1213.41px;top:780px;font-size:12.2px;line-height:14px;color:#171a27;transform:translateX(-50%) scaleX(1.0305)">LAN</div>
<div class="t b c" style="left:1407.71px;top:780px;font-size:12.2px;line-height:14px;color:#171a27;transform:translateX(-50%) scaleX(1.0132)">WAN</div>
<div class="t m" style="left:1042.39px;top:804px;font-size:11.4px;line-height:12px;color:#171a27;transform:scaleX(1.0012)">Coverage</div>
<div class="t m" style="left:1140.68px;top:804px;font-size:11.4px;line-height:12px;color:#171a27;transform:scaleX(1.0085)">Small area (room, building)</div>
<div class="t m" style="left:1334.18px;top:804px;font-size:11.4px;line-height:12px;color:#171a27;transform:scaleX(1.0052)">Large area (cities, countries)</div>
<div class="t m" style="left:1042.37px;top:826px;font-size:11.4px;line-height:12px;color:#171a27;transform:scaleX(1.0279)">Ownership</div>
<div class="t m" style="left:1140.68px;top:826px;font-size:11.4px;line-height:12px;color:#171a27;transform:scaleX(1.0056)">Private</div>
<div class="t m" style="left:1334.18px;top:826px;font-size:11.4px;line-height:12px;color:#171a27;transform:scaleX(1.0122)">Public / Service Provider</div>
<div class="t m" style="left:1042.37px;top:848px;font-size:11.4px;line-height:12px;color:#171a27;transform:scaleX(1.0315)">Speed</div>
<div class="t m" style="left:1140.69px;top:848px;font-size:11.4px;line-height:12px;color:#171a27;transform:scaleX(1.0002)">High (100 Mbps – 10 Gbps+)</div>
<div class="t m" style="left:1334.18px;top:848px;font-size:11.4px;line-height:12px;color:#171a27;transform:scaleX(1.0105)">Lower (varies widely)</div>
<div class="t m" style="left:1042.38px;top:870px;font-size:11.4px;line-height:12px;color:#171a27;transform:scaleX(1.0101)">Latency</div>
<div class="t m" style="left:1140.7px;top:870px;font-size:11.4px;line-height:12px;color:#171a27;transform:scaleX(0.9826)">Low</div>
<div class="t m" style="left:1334.17px;top:870px;font-size:11.4px;line-height:12px;color:#171a27;transform:scaleX(1.0314)">Higher</div>
<div class="t m" style="left:1042.39px;top:893px;font-size:11.4px;line-height:12px;color:#171a27;transform:scaleX(0.9939)">Cost</div>
<div class="t m" style="left:1140.69px;top:893px;font-size:11.4px;line-height:12px;color:#171a27;transform:scaleX(1.0024)">Lower</div>
<div class="t m" style="left:1334.17px;top:893px;font-size:11.4px;line-height:12px;color:#171a27;transform:scaleX(1.0314)">Higher</div>
<div class="t m" style="left:1042.39px;top:915px;font-size:11.4px;line-height:12px;color:#171a27;transform:scaleX(0.9858)">Examples</div>
<div class="t m" style="left:1140.68px;top:915px;font-size:11.4px;line-height:12px;color:#171a27;transform:scaleX(1.0217)">Home, Office, Campus</div>
<div class="t m" style="left:1334.17px;top:915px;font-size:11.4px;line-height:12px;color:#171a27;transform:scaleX(1.029)">Internet, Corporate WAN</div>
<div class="t b" style="left:86.1px;top:821px;font-size:11px;line-height:12px;transform:scaleX(0.9552)">Home Networks</div>
<div class="t m" style="left:85.65px;top:840px;font-size:10.2px;line-height:11px;transform:scaleX(0.9739)">Connects computers,</div>
<div class="t m" style="left:85.66px;top:855px;font-size:10.2px;line-height:11px;transform:scaleX(0.9555)">smart TVs, gaming</div>
<div class="t m" style="left:85.65px;top:870px;font-size:10.2px;line-height:11px;transform:scaleX(0.9776)">consoles, and printers</div>
<div class="t m" style="left:85.65px;top:885px;font-size:10.2px;line-height:11px;transform:scaleX(0.9719)">for internet and file</div>
<div class="t m" style="left:85.64px;top:900px;font-size:10.2px;line-height:11px;transform:scaleX(0.9983)">sharing.</div>
<div class="t b" style="left:241.3px;top:821px;font-size:11px;line-height:12px;transform:scaleX(0.9212)">Small Offices</div>
<div class="t m" style="left:240.9px;top:840px;font-size:10.2px;line-height:11px;transform:scaleX(0.8689)">Enables employees to</div>
<div class="t m" style="left:240.89px;top:855px;font-size:10.2px;line-height:11px;transform:scaleX(0.8925)">share files, printers,</div>
<div class="t m" style="left:240.88px;top:870px;font-size:10.2px;line-height:11px;transform:scaleX(0.9126)">and applications</div>
<div class="t m" style="left:240.83px;top:885px;font-size:10.2px;line-height:11px;transform:scaleX(1.0146)">efficiently.</div>
<div class="t b" style="left:392.7px;top:821px;font-size:11px;line-height:12px;transform:scaleX(0.9173)">Schools &amp; Colleges</div>
<div class="t m" style="left:392.28px;top:840px;font-size:10.2px;line-height:11px;transform:scaleX(0.9183)">Connects computer labs,</div>
<div class="t m" style="left:392.29px;top:855px;font-size:10.2px;line-height:11px;transform:scaleX(0.883)">libraries, and classrooms</div>
<div class="t m" style="left:392.29px;top:870px;font-size:10.2px;line-height:11px;transform:scaleX(0.8858)">for learning and admin</div>
<div class="t m" style="left:392.24px;top:885px;font-size:10.2px;line-height:11px;transform:scaleX(0.9935)">operations.</div>
<div class="t b" style="left:560.4px;top:821px;font-size:11px;line-height:12px;transform:scaleX(0.9104)">Enterprises</div>
<div class="t m" style="left:559.99px;top:840px;font-size:10.2px;line-height:11px;transform:scaleX(0.8838)">Supports business</div>
<div class="t m" style="left:560px;top:855px;font-size:10.2px;line-height:11px;transform:scaleX(0.8757)">applications, databases,</div>
<div class="t m" style="left:560px;top:870px;font-size:10.2px;line-height:11px;transform:scaleX(0.8765)">VoIP, video conferencing,</div>
<div class="t m" style="left:559.98px;top:885px;font-size:10.2px;line-height:11px;transform:scaleX(0.9118)">and internal services.</div>
<div class="t b" style="left:718.8px;top:821px;font-size:11px;line-height:12px;transform:scaleX(0.9546)">Healthcare</div>
<div class="t m" style="left:718.38px;top:840px;font-size:10.2px;line-height:11px;transform:scaleX(0.9074)">Connects medical devices,</div>
<div class="t m" style="left:718.36px;top:855px;font-size:10.2px;line-height:11px;transform:scaleX(0.9565)">records systems, and</div>
<div class="t m" style="left:718.35px;top:870px;font-size:10.2px;line-height:11px;transform:scaleX(0.9737)">staff terminals securely</div>
<div class="t m" style="left:718.33px;top:885px;font-size:10.2px;line-height:11px;transform:scaleX(1.0186)">within a facility.</div>
<div class="t b" style="left:889.3px;top:821px;font-size:11px;line-height:12px;transform:scaleX(0.9444)">Factories / IoT</div>
<div class="t m" style="left:888.86px;top:840px;font-size:10.2px;line-height:11px;transform:scaleX(0.9532)">Connects sensors,</div>
<div class="t m" style="left:888.85px;top:855px;font-size:10.2px;line-height:11px;transform:scaleX(0.9823)">machines, and control</div>
<div class="t m" style="left:888.85px;top:870px;font-size:10.2px;line-height:11px;transform:scaleX(0.9857)">systems for monitoring</div>
<div class="t m" style="left:888.84px;top:885px;font-size:10.2px;line-height:11px;transform:scaleX(1.0057)">and automation.</div>
<div class="t b" style="left:85.5px;top:960px;font-size:14.8px;line-height:16px;color:#141b3a;transform:scaleX(0.9319)">KEY TAKEAWAY:</div>
<div class="t m" style="left:206.84px;top:960px;font-size:14.8px;line-height:16px;color:#141b3a;transform:scaleX(0.9975)">LANs are the backbone of modern digital environments,</div>
<div class="t m" style="left:84.84px;top:981px;font-size:14.8px;line-height:16px;color:#141b3a;transform:scaleX(0.984)">delivering fast, secure, and reliable connectivity for people, devices, and applications.</div>
<div class="t b" style="left:669.3px;top:953px;font-size:12px;line-height:14px;color:#1a2a7c;transform:scaleX(1.0012)">ESSENTIAL LAN COMPONENTS:</div>
<div class="t m" style="left:726.05px;top:979px;font-size:12.4px;line-height:14px;transform:scaleX(0.9803)">Router</div>
<div class="t m" style="left:850.15px;top:979px;font-size:12.4px;line-height:14px;transform:scaleX(0.993)">Switch</div>
<div class="t m" style="left:968.16px;top:979px;font-size:12.4px;line-height:14px;transform:scaleX(0.9606)">Access Point</div>
<div class="t m" style="left:1096.27px;top:979px;font-size:12.4px;line-height:14px;transform:scaleX(0.9544)">Cables</div>
<div class="t m" style="left:1212.36px;top:965px;font-size:13px;line-height:15px;transform:scaleX(1.0865)">Network Interface</div>
<div class="t m" style="left:1212.41px;top:984px;font-size:13px;line-height:15px;transform:scaleX(1.006)">Card (NIC)</div>
<div class="t m" style="left:1429.16px;top:973px;font-size:12.2px;line-height:14px;transform:scaleX(0.99)">End Devices</div>
</div>
</body></html>
